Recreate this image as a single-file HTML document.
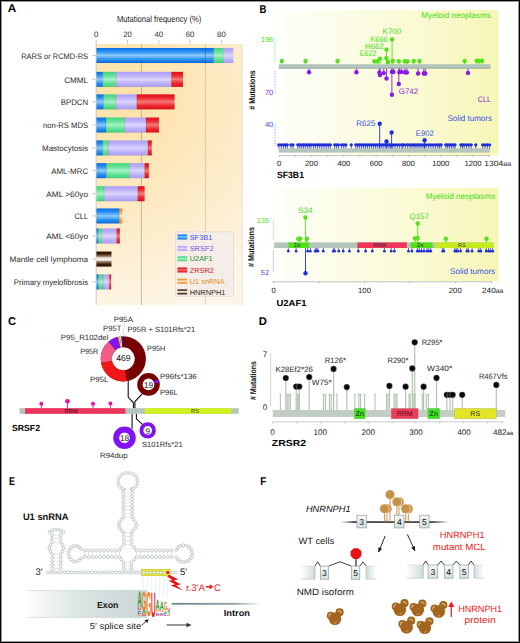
<!DOCTYPE html>
<html><head><meta charset="utf-8"><title>Figure</title><style>html,body{margin:0;padding:0;background:#fff;width:520px;height:643px;overflow:hidden}svg{display:block;font-family:"Liberation Sans",sans-serif}</style></head><body>
<svg width="520" height="643" viewBox="0 0 520 643" font-family="Liberation Sans, sans-serif" text-rendering="geometricPrecision"><defs><linearGradient id="gB" x1="0" y1="0" x2="0" y2="1"><stop offset="0" stop-color="#0a6be6"/><stop offset="0.25" stop-color="#2c92f2"/><stop offset="0.5" stop-color="#8ccaf9"/><stop offset="0.75" stop-color="#2c92f2"/><stop offset="1" stop-color="#0a6be6"/></linearGradient><linearGradient id="gG" x1="0" y1="0" x2="0" y2="1"><stop offset="0" stop-color="#3fd47f"/><stop offset="0.25" stop-color="#63e297"/><stop offset="0.5" stop-color="#a6f2c4"/><stop offset="0.75" stop-color="#63e297"/><stop offset="1" stop-color="#3fd47f"/></linearGradient><linearGradient id="gP" x1="0" y1="0" x2="0" y2="1"><stop offset="0" stop-color="#ad9ff6"/><stop offset="0.25" stop-color="#bdb2f9"/><stop offset="0.5" stop-color="#dcd6fd"/><stop offset="0.75" stop-color="#bdb2f9"/><stop offset="1" stop-color="#ad9ff6"/></linearGradient><linearGradient id="gR" x1="0" y1="0" x2="0" y2="1"><stop offset="0" stop-color="#e20d16"/><stop offset="0.25" stop-color="#ec2a30"/><stop offset="0.5" stop-color="#f57a7a"/><stop offset="0.75" stop-color="#ec2a30"/><stop offset="1" stop-color="#e20d16"/></linearGradient><linearGradient id="gO" x1="0" y1="0" x2="0" y2="1"><stop offset="0" stop-color="#f08a1c"/><stop offset="0.25" stop-color="#f5a850"/><stop offset="0.5" stop-color="#fde8cc"/><stop offset="0.75" stop-color="#f5a850"/><stop offset="1" stop-color="#f08a1c"/></linearGradient><linearGradient id="gH" x1="0" y1="0" x2="0" y2="1"><stop offset="0" stop-color="#2a1000"/><stop offset="0.13" stop-color="#3a1c08"/><stop offset="0.3" stop-color="#8a6a50"/><stop offset="0.42" stop-color="#ebe6e0"/><stop offset="0.5" stop-color="#f6f4f2"/><stop offset="0.58" stop-color="#ebe6e0"/><stop offset="0.7" stop-color="#8a6a50"/><stop offset="0.87" stop-color="#3a1c08"/><stop offset="1" stop-color="#2a1000"/></linearGradient><radialGradient id="bgA" cx="120" cy="100" r="220" gradientUnits="userSpaceOnUse"><stop offset="0" stop-color="#fde2a4"/><stop offset="0.5" stop-color="#fdeac4"/><stop offset="1" stop-color="#fdf6e8"/></radialGradient><linearGradient id="bgB" x1="0" y1="0" x2="1" y2="0"><stop offset="0" stop-color="#fefefb"/><stop offset="0.3" stop-color="#fcfce8"/><stop offset="0.65" stop-color="#fafad2"/><stop offset="1" stop-color="#f6f6b6"/></linearGradient><linearGradient id="exon" x1="0" y1="0" x2="1" y2="0"><stop offset="0" stop-color="#ffffff"/><stop offset="0.4" stop-color="#dee5e5"/><stop offset="0.7" stop-color="#d2dcdc"/><stop offset="1" stop-color="#ccd6d6"/></linearGradient><linearGradient id="ebox" x1="0" y1="0" x2="0" y2="1"><stop offset="0" stop-color="#f6f9f9"/><stop offset="1" stop-color="#d6e0e0"/></linearGradient><linearGradient id="fadeL" x1="0" y1="0" x2="1" y2="0"><stop offset="0" stop-color="#ffffff"/><stop offset="1" stop-color="#d0dada"/></linearGradient><linearGradient id="fadeR" x1="0" y1="0" x2="1" y2="0"><stop offset="0" stop-color="#d0dada"/><stop offset="1" stop-color="#ffffff"/></linearGradient><linearGradient id="geneL" x1="0" y1="0" x2="1" y2="0"><stop offset="0" stop-color="#000" stop-opacity="0"/><stop offset="0.12" stop-color="#000"/><stop offset="0.85" stop-color="#000"/><stop offset="1" stop-color="#000" stop-opacity="0"/></linearGradient><linearGradient id="intron" x1="0" y1="0" x2="1" y2="0"><stop offset="0" stop-color="#6f8388"/><stop offset="0.7" stop-color="#8fa0a4"/><stop offset="1" stop-color="#ffffff"/></linearGradient></defs><rect width="520" height="643" fill="#fff"/><rect x="95.80" y="44.00" width="146.40" height="261.00" fill="url(#bgA)"/>
<line x1="242.20" y1="44.00" x2="242.20" y2="305.00" stroke="#d8d4cc" stroke-width="0.6"/>
<line x1="141.40" y1="44.00" x2="141.40" y2="305.00" stroke="#8a8274" stroke-width="0.5"/>
<line x1="205.40" y1="44.00" x2="205.40" y2="305.00" stroke="#8a8478" stroke-width="0.5" stroke-dasharray="0.9 0.7"/>
<line x1="96.20" y1="44.00" x2="96.20" y2="305.00" stroke="#c4c8cc" stroke-width="0.8"/>
<line x1="96.20" y1="40.00" x2="96.20" y2="43.50" stroke="#999" stroke-width="0.6"/>
<text x="96.20" y="36.89" font-size="7.8" fill="#333" text-anchor="middle">0</text>
<line x1="127.50" y1="40.00" x2="127.50" y2="43.50" stroke="#999" stroke-width="0.6"/>
<text x="127.50" y="36.89" font-size="7.8" fill="#333" text-anchor="middle">20</text>
<line x1="158.80" y1="40.00" x2="158.80" y2="43.50" stroke="#999" stroke-width="0.6"/>
<text x="158.80" y="36.89" font-size="7.8" fill="#333" text-anchor="middle">40</text>
<line x1="190.10" y1="40.00" x2="190.10" y2="43.50" stroke="#999" stroke-width="0.6"/>
<text x="190.10" y="36.89" font-size="7.8" fill="#333" text-anchor="middle">60</text>
<line x1="221.40" y1="40.00" x2="221.40" y2="43.50" stroke="#999" stroke-width="0.6"/>
<text x="221.40" y="36.89" font-size="7.8" fill="#333" text-anchor="middle">80</text>
<text x="159.10" y="22.39" font-size="8.9" fill="#222" text-anchor="middle" textLength="84.20" lengthAdjust="spacingAndGlyphs">Mutational frequency (%)</text>
<text x="7.70" y="12.30" font-size="11.3" fill="#000" font-weight="bold" textLength="8.50" lengthAdjust="spacingAndGlyphs">A</text>
<text x="21.20" y="58.86" font-size="8" fill="#2b2b2b" textLength="66.90" lengthAdjust="spacingAndGlyphs">RARS or RCMD-RS</text>
<line x1="92.00" y1="55.50" x2="95.60" y2="55.50" stroke="#b8bcc0" stroke-width="0.8"/>
<rect x="96.40" y="48.00" width="117.40" height="15.00" fill="url(#gB)"/>
<rect x="213.80" y="48.00" width="9.60" height="15.00" fill="url(#gG)"/>
<rect x="223.40" y="48.00" width="10.00" height="15.00" fill="url(#gP)"/>
<line x1="213.80" y1="48.00" x2="213.80" y2="63.00" stroke="#000" stroke-width="0.5" stroke-opacity="0.22"/>
<line x1="223.40" y1="48.00" x2="223.40" y2="63.00" stroke="#000" stroke-width="0.5" stroke-opacity="0.22"/>
<line x1="96.40" y1="62.80" x2="233.40" y2="62.80" stroke="#000" stroke-width="0.4" stroke-opacity="0.15"/>
<text x="64.20" y="82.71" font-size="8" fill="#2b2b2b" textLength="23.90" lengthAdjust="spacingAndGlyphs">CMML</text>
<line x1="92.00" y1="79.35" x2="95.60" y2="79.35" stroke="#b8bcc0" stroke-width="0.8"/>
<rect x="96.40" y="71.85" width="6.40" height="15.00" fill="url(#gB)"/>
<rect x="102.80" y="71.85" width="13.00" height="15.00" fill="url(#gG)"/>
<rect x="115.80" y="71.85" width="55.60" height="15.00" fill="url(#gP)"/>
<rect x="171.40" y="71.85" width="11.60" height="15.00" fill="url(#gR)"/>
<line x1="102.80" y1="71.85" x2="102.80" y2="86.85" stroke="#000" stroke-width="0.5" stroke-opacity="0.22"/>
<line x1="115.80" y1="71.85" x2="115.80" y2="86.85" stroke="#000" stroke-width="0.5" stroke-opacity="0.22"/>
<line x1="171.40" y1="71.85" x2="171.40" y2="86.85" stroke="#000" stroke-width="0.5" stroke-opacity="0.22"/>
<line x1="96.40" y1="86.65" x2="183.00" y2="86.65" stroke="#000" stroke-width="0.4" stroke-opacity="0.15"/>
<text x="60.75" y="105.21" font-size="8" fill="#2b2b2b" textLength="27.35" lengthAdjust="spacingAndGlyphs">BPDCN</text>
<line x1="92.00" y1="101.85" x2="95.60" y2="101.85" stroke="#b8bcc0" stroke-width="0.8"/>
<rect x="96.40" y="94.35" width="7.30" height="15.00" fill="url(#gB)"/>
<rect x="103.70" y="94.35" width="12.10" height="15.00" fill="url(#gG)"/>
<rect x="115.80" y="94.35" width="21.00" height="15.00" fill="url(#gP)"/>
<rect x="136.80" y="94.35" width="37.80" height="15.00" fill="url(#gR)"/>
<line x1="103.70" y1="94.35" x2="103.70" y2="109.35" stroke="#000" stroke-width="0.5" stroke-opacity="0.22"/>
<line x1="115.80" y1="94.35" x2="115.80" y2="109.35" stroke="#000" stroke-width="0.5" stroke-opacity="0.22"/>
<line x1="136.80" y1="94.35" x2="136.80" y2="109.35" stroke="#000" stroke-width="0.5" stroke-opacity="0.22"/>
<line x1="96.40" y1="109.15" x2="174.60" y2="109.15" stroke="#000" stroke-width="0.4" stroke-opacity="0.15"/>
<text x="43.00" y="128.36" font-size="8" fill="#2b2b2b" textLength="45.10" lengthAdjust="spacingAndGlyphs">non-RS MDS</text>
<line x1="92.00" y1="125.00" x2="95.60" y2="125.00" stroke="#b8bcc0" stroke-width="0.8"/>
<rect x="96.40" y="117.50" width="9.60" height="15.00" fill="url(#gB)"/>
<rect x="106.00" y="117.50" width="18.70" height="15.00" fill="url(#gG)"/>
<rect x="124.70" y="117.50" width="21.30" height="15.00" fill="url(#gP)"/>
<rect x="146.00" y="117.50" width="13.00" height="15.00" fill="url(#gR)"/>
<line x1="106.00" y1="117.50" x2="106.00" y2="132.50" stroke="#000" stroke-width="0.5" stroke-opacity="0.22"/>
<line x1="124.70" y1="117.50" x2="124.70" y2="132.50" stroke="#000" stroke-width="0.5" stroke-opacity="0.22"/>
<line x1="146.00" y1="117.50" x2="146.00" y2="132.50" stroke="#000" stroke-width="0.5" stroke-opacity="0.22"/>
<line x1="96.40" y1="132.30" x2="159.00" y2="132.30" stroke="#000" stroke-width="0.4" stroke-opacity="0.15"/>
<text x="42.00" y="151.26" font-size="8" fill="#2b2b2b" textLength="46.10" lengthAdjust="spacingAndGlyphs">Mastocytosis</text>
<line x1="92.00" y1="147.90" x2="95.60" y2="147.90" stroke="#b8bcc0" stroke-width="0.8"/>
<rect x="96.40" y="140.40" width="6.40" height="15.00" fill="url(#gB)"/>
<rect x="102.80" y="140.40" width="5.20" height="15.00" fill="url(#gG)"/>
<rect x="108.00" y="140.40" width="39.80" height="15.00" fill="url(#gP)"/>
<rect x="147.80" y="140.40" width="4.00" height="15.00" fill="url(#gR)"/>
<line x1="102.80" y1="140.40" x2="102.80" y2="155.40" stroke="#000" stroke-width="0.5" stroke-opacity="0.22"/>
<line x1="108.00" y1="140.40" x2="108.00" y2="155.40" stroke="#000" stroke-width="0.5" stroke-opacity="0.22"/>
<line x1="147.80" y1="140.40" x2="147.80" y2="155.40" stroke="#000" stroke-width="0.5" stroke-opacity="0.22"/>
<line x1="96.40" y1="155.20" x2="151.80" y2="155.20" stroke="#000" stroke-width="0.4" stroke-opacity="0.15"/>
<text x="51.25" y="174.01" font-size="8" fill="#2b2b2b" textLength="36.85" lengthAdjust="spacingAndGlyphs">AML-MRC</text>
<line x1="92.00" y1="170.65" x2="95.60" y2="170.65" stroke="#b8bcc0" stroke-width="0.8"/>
<rect x="96.40" y="163.15" width="10.10" height="15.00" fill="url(#gB)"/>
<rect x="106.50" y="163.15" width="23.10" height="15.00" fill="url(#gG)"/>
<rect x="129.60" y="163.15" width="15.00" height="15.00" fill="url(#gP)"/>
<rect x="144.60" y="163.15" width="4.30" height="15.00" fill="url(#gR)"/>
<line x1="106.50" y1="163.15" x2="106.50" y2="178.15" stroke="#000" stroke-width="0.5" stroke-opacity="0.22"/>
<line x1="129.60" y1="163.15" x2="129.60" y2="178.15" stroke="#000" stroke-width="0.5" stroke-opacity="0.22"/>
<line x1="144.60" y1="163.15" x2="144.60" y2="178.15" stroke="#000" stroke-width="0.5" stroke-opacity="0.22"/>
<line x1="96.40" y1="177.95" x2="148.90" y2="177.95" stroke="#000" stroke-width="0.4" stroke-opacity="0.15"/>
<text x="46.25" y="197.06" font-size="8" fill="#2b2b2b" textLength="41.85" lengthAdjust="spacingAndGlyphs">AML &gt;60yo</text>
<line x1="92.00" y1="193.70" x2="95.60" y2="193.70" stroke="#b8bcc0" stroke-width="0.8"/>
<rect x="96.40" y="186.20" width="7.80" height="15.00" fill="url(#gG)"/>
<rect x="104.20" y="186.20" width="33.50" height="15.00" fill="url(#gP)"/>
<rect x="137.70" y="186.20" width="6.90" height="15.00" fill="url(#gR)"/>
<line x1="104.20" y1="186.20" x2="104.20" y2="201.20" stroke="#000" stroke-width="0.5" stroke-opacity="0.22"/>
<line x1="137.70" y1="186.20" x2="137.70" y2="201.20" stroke="#000" stroke-width="0.5" stroke-opacity="0.22"/>
<line x1="96.40" y1="201.00" x2="144.60" y2="201.00" stroke="#000" stroke-width="0.4" stroke-opacity="0.15"/>
<text x="74.50" y="219.31" font-size="8" fill="#2b2b2b" textLength="13.60" lengthAdjust="spacingAndGlyphs">CLL</text>
<line x1="92.00" y1="215.95" x2="95.60" y2="215.95" stroke="#b8bcc0" stroke-width="0.8"/>
<rect x="96.40" y="208.45" width="23.10" height="15.00" fill="url(#gB)"/>
<rect x="119.50" y="208.45" width="2.90" height="15.00" fill="url(#gO)"/>
<line x1="119.50" y1="208.45" x2="119.50" y2="223.45" stroke="#000" stroke-width="0.5" stroke-opacity="0.22"/>
<line x1="96.40" y1="223.25" x2="122.40" y2="223.25" stroke="#000" stroke-width="0.4" stroke-opacity="0.15"/>
<text x="46.25" y="239.31" font-size="8" fill="#2b2b2b" textLength="41.85" lengthAdjust="spacingAndGlyphs">AML &lt;60yo</text>
<line x1="92.00" y1="235.95" x2="95.60" y2="235.95" stroke="#b8bcc0" stroke-width="0.8"/>
<rect x="96.40" y="228.45" width="2.10" height="15.00" fill="url(#gB)"/>
<rect x="98.50" y="228.45" width="3.30" height="15.00" fill="url(#gG)"/>
<rect x="101.80" y="228.45" width="14.90" height="15.00" fill="url(#gP)"/>
<rect x="116.70" y="228.45" width="3.20" height="15.00" fill="url(#gR)"/>
<line x1="98.50" y1="228.45" x2="98.50" y2="243.45" stroke="#000" stroke-width="0.5" stroke-opacity="0.22"/>
<line x1="101.80" y1="228.45" x2="101.80" y2="243.45" stroke="#000" stroke-width="0.5" stroke-opacity="0.22"/>
<line x1="116.70" y1="228.45" x2="116.70" y2="243.45" stroke="#000" stroke-width="0.5" stroke-opacity="0.22"/>
<line x1="96.40" y1="243.25" x2="119.90" y2="243.25" stroke="#000" stroke-width="0.4" stroke-opacity="0.15"/>
<text x="9.50" y="262.41" font-size="8" fill="#2b2b2b" textLength="78.60" lengthAdjust="spacingAndGlyphs">Mantle cell lymphoma</text>
<line x1="92.00" y1="259.05" x2="95.60" y2="259.05" stroke="#b8bcc0" stroke-width="0.8"/>
<rect x="96.40" y="251.55" width="15.10" height="15.00" fill="url(#gH)"/>
<line x1="96.40" y1="266.35" x2="111.50" y2="266.35" stroke="#000" stroke-width="0.4" stroke-opacity="0.15"/>
<text x="13.75" y="285.26" font-size="8" fill="#2b2b2b" textLength="74.35" lengthAdjust="spacingAndGlyphs">Primary myelofibrosis</text>
<line x1="92.00" y1="281.90" x2="95.60" y2="281.90" stroke="#b8bcc0" stroke-width="0.8"/>
<rect x="96.40" y="274.40" width="2.30" height="15.00" fill="url(#gB)"/>
<rect x="98.70" y="274.40" width="4.30" height="15.00" fill="url(#gG)"/>
<rect x="103.00" y="274.40" width="6.30" height="15.00" fill="url(#gP)"/>
<rect x="109.30" y="274.40" width="1.80" height="15.00" fill="url(#gR)"/>
<line x1="98.70" y1="274.40" x2="98.70" y2="289.40" stroke="#000" stroke-width="0.5" stroke-opacity="0.22"/>
<line x1="103.00" y1="274.40" x2="103.00" y2="289.40" stroke="#000" stroke-width="0.5" stroke-opacity="0.22"/>
<line x1="109.30" y1="274.40" x2="109.30" y2="289.40" stroke="#000" stroke-width="0.5" stroke-opacity="0.22"/>
<line x1="96.40" y1="289.20" x2="111.10" y2="289.20" stroke="#000" stroke-width="0.4" stroke-opacity="0.15"/>
<line x1="205.40" y1="47.50" x2="205.40" y2="63.50" stroke="#203050" stroke-width="0.5" stroke-opacity="0.6"/>
<rect x="175.40" y="231.90" width="58.10" height="64.30" fill="#f4ece8" fill-opacity="0.88" stroke="#d8d0cc" stroke-width="0.5"/>
<rect x="177.40" y="234.50" width="9.80" height="5.00" fill="url(#gB)"/>
<text x="189.70" y="239.65" font-size="7.4" fill="#3a55e0">SF3B1</text>
<rect x="177.40" y="245.90" width="9.80" height="5.00" fill="url(#gP)"/>
<text x="189.70" y="251.05" font-size="7.4" fill="#7a55e8">SRSF2</text>
<rect x="177.40" y="256.30" width="9.80" height="5.00" fill="url(#gG)"/>
<text x="189.70" y="261.45" font-size="7.4" fill="#2a8a30">U2AF1</text>
<rect x="177.40" y="267.50" width="9.80" height="5.00" fill="url(#gR)"/>
<text x="189.70" y="272.65" font-size="7.4" fill="#c8282a">ZRSR2</text>
<rect x="177.40" y="278.70" width="9.80" height="5.00" fill="url(#gO)"/>
<text x="189.70" y="283.85" font-size="7.4" fill="#f08a24">U1 snRNA</text>
<rect x="177.40" y="289.40" width="9.80" height="5.00" fill="url(#gH)"/>
<text x="189.70" y="294.55" font-size="7.4" fill="#3a2a20">HNRNPH1</text>
<text x="259.60" y="12.50" font-size="11.3" fill="#000" font-weight="bold" textLength="6.90" lengthAdjust="spacingAndGlyphs">B</text>
<rect x="277.00" y="10.00" width="221.50" height="145.40" fill="url(#bgB)"/>
<rect x="276.00" y="187.80" width="222.50" height="93.50" fill="url(#bgB)"/>
<text transform="translate(254.61,90.00) rotate(-90)" text-anchor="middle" font-size="8.4" font-weight="bold" fill="#111" textLength="39.4" lengthAdjust="spacingAndGlyphs"># Mutations</text>
<text transform="translate(254.31,247.00) rotate(-90)" text-anchor="middle" font-size="8.4" font-weight="bold" fill="#111" textLength="40" lengthAdjust="spacingAndGlyphs"># Mutations</text>
<text x="421.20" y="18.44" font-size="8.2" fill="#3ede10" textLength="69.60" lengthAdjust="spacingAndGlyphs">Myeloid neoplasms</text>
<text x="273.20" y="42.15" font-size="7.4" fill="#3ede10" text-anchor="end">196</text>
<text x="273.20" y="95.45" font-size="7.4" fill="#9026d8" text-anchor="end">70</text>
<text x="273.20" y="127.05" font-size="7.4" fill="#3a52e6" text-anchor="end">40</text>
<line x1="275.00" y1="39.50" x2="275.00" y2="62.30" stroke="#55e01a" stroke-width="0.7" stroke-dasharray="0.8 0.8"/>
<line x1="275.00" y1="71.20" x2="275.00" y2="93.00" stroke="#b070f0" stroke-width="0.7" stroke-dasharray="0.8 0.8"/>
<line x1="275.00" y1="124.00" x2="275.00" y2="146.00" stroke="#6070e0" stroke-width="0.7" stroke-dasharray="0.8 0.8"/>
<rect x="278.80" y="64.20" width="211.60" height="4.30" fill="#b4c6bb"/>
<line x1="278.80" y1="68.20" x2="490.40" y2="68.20" stroke="#8a9a90" stroke-width="0.6"/>
<line x1="281.80" y1="61.00" x2="281.80" y2="64.20" stroke="#55e01a" stroke-width="0.9"/>
<line x1="305.50" y1="61.00" x2="305.50" y2="64.20" stroke="#55e01a" stroke-width="0.9"/>
<line x1="337.60" y1="61.00" x2="337.60" y2="64.20" stroke="#55e01a" stroke-width="0.9"/>
<line x1="374.40" y1="61.30" x2="374.40" y2="64.20" stroke="#55e01a" stroke-width="0.9"/>
<line x1="377.50" y1="61.30" x2="377.50" y2="64.20" stroke="#55e01a" stroke-width="0.9"/>
<line x1="380.00" y1="58.75" x2="380.00" y2="64.20" stroke="#55e01a" stroke-width="0.9"/>
<line x1="386.30" y1="58.10" x2="386.30" y2="64.20" stroke="#55e01a" stroke-width="0.9"/>
<line x1="386.50" y1="49.60" x2="386.50" y2="64.20" stroke="#55e01a" stroke-width="0.9"/>
<line x1="388.00" y1="61.90" x2="388.00" y2="64.20" stroke="#55e01a" stroke-width="0.9"/>
<line x1="392.10" y1="39.40" x2="392.10" y2="64.20" stroke="#55e01a" stroke-width="0.9"/>
<line x1="392.80" y1="61.00" x2="392.80" y2="64.20" stroke="#55e01a" stroke-width="0.9"/>
<line x1="398.80" y1="61.30" x2="398.80" y2="64.20" stroke="#55e01a" stroke-width="0.9"/>
<line x1="404.80" y1="61.30" x2="404.80" y2="64.20" stroke="#55e01a" stroke-width="0.9"/>
<line x1="407.50" y1="61.30" x2="407.50" y2="64.20" stroke="#55e01a" stroke-width="0.9"/>
<line x1="413.80" y1="61.00" x2="413.80" y2="64.20" stroke="#55e01a" stroke-width="0.9"/>
<line x1="419.40" y1="61.00" x2="419.40" y2="64.20" stroke="#55e01a" stroke-width="0.9"/>
<line x1="464.70" y1="61.00" x2="464.70" y2="64.20" stroke="#55e01a" stroke-width="0.9"/>
<line x1="476.60" y1="60.80" x2="476.60" y2="64.20" stroke="#55e01a" stroke-width="0.9"/>
<line x1="479.20" y1="60.80" x2="479.20" y2="64.20" stroke="#55e01a" stroke-width="0.9"/>
<line x1="482.00" y1="60.80" x2="482.00" y2="64.20" stroke="#55e01a" stroke-width="0.9"/>
<circle cx="281.80" cy="61.00" r="2.20" fill="#55e01a"/>
<circle cx="305.50" cy="61.00" r="2.20" fill="#55e01a"/>
<circle cx="337.60" cy="61.00" r="2.20" fill="#55e01a"/>
<circle cx="374.40" cy="61.30" r="2.20" fill="#55e01a"/>
<circle cx="377.50" cy="61.30" r="2.20" fill="#55e01a"/>
<circle cx="380.00" cy="58.75" r="2.20" fill="#55e01a"/>
<circle cx="386.30" cy="58.10" r="2.20" fill="#55e01a"/>
<circle cx="386.50" cy="49.60" r="2.20" fill="#55e01a"/>
<circle cx="388.00" cy="61.90" r="2.20" fill="#55e01a"/>
<circle cx="392.10" cy="39.40" r="2.20" fill="#55e01a"/>
<circle cx="392.80" cy="61.00" r="2.20" fill="#55e01a"/>
<circle cx="398.80" cy="61.30" r="2.20" fill="#55e01a"/>
<circle cx="404.80" cy="61.30" r="2.20" fill="#55e01a"/>
<circle cx="407.50" cy="61.30" r="2.20" fill="#55e01a"/>
<circle cx="413.80" cy="61.00" r="2.20" fill="#55e01a"/>
<circle cx="419.40" cy="61.00" r="2.20" fill="#55e01a"/>
<circle cx="464.70" cy="61.00" r="2.20" fill="#55e01a"/>
<circle cx="476.60" cy="60.80" r="2.20" fill="#55e01a"/>
<circle cx="479.20" cy="60.80" r="2.20" fill="#55e01a"/>
<circle cx="482.00" cy="60.80" r="2.20" fill="#55e01a"/>
<line x1="309.00" y1="68.50" x2="309.00" y2="72.30" stroke="#8a18e6" stroke-width="0.9"/>
<line x1="356.40" y1="68.50" x2="356.40" y2="72.30" stroke="#8a18e6" stroke-width="0.9"/>
<line x1="379.40" y1="68.50" x2="379.40" y2="72.50" stroke="#8a18e6" stroke-width="0.9"/>
<line x1="380.00" y1="68.50" x2="380.00" y2="75.00" stroke="#8a18e6" stroke-width="0.9"/>
<line x1="383.80" y1="68.50" x2="383.80" y2="73.10" stroke="#8a18e6" stroke-width="0.9"/>
<line x1="386.50" y1="68.50" x2="386.50" y2="78.50" stroke="#8a18e6" stroke-width="0.9"/>
<line x1="391.90" y1="68.50" x2="391.90" y2="71.90" stroke="#8a18e6" stroke-width="0.9"/>
<line x1="393.50" y1="68.50" x2="393.50" y2="71.90" stroke="#8a18e6" stroke-width="0.9"/>
<line x1="391.90" y1="68.50" x2="391.90" y2="94.75" stroke="#8a18e6" stroke-width="0.9"/>
<line x1="398.80" y1="68.50" x2="398.80" y2="84.00" stroke="#8a18e6" stroke-width="0.9"/>
<line x1="399.40" y1="68.50" x2="399.40" y2="72.30" stroke="#8a18e6" stroke-width="0.9"/>
<line x1="401.30" y1="68.50" x2="401.30" y2="71.90" stroke="#8a18e6" stroke-width="0.9"/>
<line x1="405.00" y1="68.50" x2="405.00" y2="72.30" stroke="#8a18e6" stroke-width="0.9"/>
<line x1="406.90" y1="68.50" x2="406.90" y2="72.50" stroke="#8a18e6" stroke-width="0.9"/>
<line x1="418.10" y1="68.50" x2="418.10" y2="73.50" stroke="#8a18e6" stroke-width="0.9"/>
<line x1="423.80" y1="68.50" x2="423.80" y2="73.50" stroke="#8a18e6" stroke-width="0.9"/>
<line x1="425.30" y1="68.50" x2="425.30" y2="73.50" stroke="#8a18e6" stroke-width="0.9"/>
<line x1="468.00" y1="68.50" x2="468.00" y2="72.90" stroke="#8a18e6" stroke-width="0.9"/>
<circle cx="309.00" cy="72.30" r="2.20" fill="#8a18e6"/>
<circle cx="356.40" cy="72.30" r="2.20" fill="#8a18e6"/>
<circle cx="379.40" cy="72.50" r="2.20" fill="#8a18e6"/>
<circle cx="380.00" cy="75.00" r="2.20" fill="#8a18e6"/>
<circle cx="383.80" cy="73.10" r="2.20" fill="#8a18e6"/>
<circle cx="386.50" cy="78.50" r="2.20" fill="#8a18e6"/>
<circle cx="391.90" cy="71.90" r="2.20" fill="#8a18e6"/>
<circle cx="393.50" cy="71.90" r="2.20" fill="#8a18e6"/>
<circle cx="391.90" cy="94.75" r="2.20" fill="#8a18e6"/>
<circle cx="398.80" cy="84.00" r="2.20" fill="#8a18e6"/>
<circle cx="399.40" cy="72.30" r="2.20" fill="#8a18e6"/>
<circle cx="401.30" cy="71.90" r="2.20" fill="#8a18e6"/>
<circle cx="405.00" cy="72.30" r="2.20" fill="#8a18e6"/>
<circle cx="406.90" cy="72.50" r="2.20" fill="#8a18e6"/>
<circle cx="418.10" cy="73.50" r="2.20" fill="#8a18e6"/>
<circle cx="423.80" cy="73.50" r="2.20" fill="#8a18e6"/>
<circle cx="425.30" cy="73.50" r="2.20" fill="#8a18e6"/>
<circle cx="468.00" cy="72.90" r="2.20" fill="#8a18e6"/>
<text x="391.90" y="34.41" font-size="8.0" fill="#3ede10" text-anchor="middle">K700</text>
<text x="370.40" y="42.01" font-size="8.0" fill="#3ede10" textLength="17.30" lengthAdjust="spacingAndGlyphs">K666</text>
<text x="365.10" y="49.16" font-size="8.0" fill="#3ede10" textLength="18.70" lengthAdjust="spacingAndGlyphs">H662</text>
<text x="359.80" y="55.76" font-size="8.0" fill="#3ede10" textLength="16.80" lengthAdjust="spacingAndGlyphs">E622</text>
<text x="398.80" y="94.06" font-size="8.0" fill="#9026d8" textLength="19.20" lengthAdjust="spacingAndGlyphs">G742</text>
<text x="477.80" y="102.46" font-size="8" fill="#9026d8" textLength="13.10" lengthAdjust="spacingAndGlyphs">CLL</text>
<text x="447.50" y="121.34" font-size="8.2" fill="#3a52e6" textLength="44.40" lengthAdjust="spacingAndGlyphs">Solid tumors</text>
<rect x="278.80" y="148.40" width="211.20" height="4.20" fill="#b4c6bb"/>
<line x1="278.80" y1="144.80" x2="278.80" y2="148.40" stroke="#1f2fd8" stroke-width="0.8"/>
<circle cx="278.80" cy="144.80" r="1.65" fill="#1f2fd8"/>
<line x1="281.30" y1="144.80" x2="281.30" y2="148.40" stroke="#1f2fd8" stroke-width="0.8"/>
<circle cx="281.30" cy="144.80" r="1.65" fill="#1f2fd8"/>
<line x1="283.50" y1="144.80" x2="283.50" y2="148.40" stroke="#1f2fd8" stroke-width="0.8"/>
<circle cx="283.50" cy="144.80" r="1.65" fill="#1f2fd8"/>
<line x1="285.40" y1="144.80" x2="285.40" y2="148.40" stroke="#1f2fd8" stroke-width="0.8"/>
<circle cx="285.40" cy="144.80" r="1.65" fill="#1f2fd8"/>
<line x1="287.30" y1="144.80" x2="287.30" y2="148.40" stroke="#1f2fd8" stroke-width="0.8"/>
<circle cx="287.30" cy="144.80" r="1.65" fill="#1f2fd8"/>
<line x1="290.90" y1="144.80" x2="290.90" y2="148.40" stroke="#1f2fd8" stroke-width="0.8"/>
<circle cx="290.90" cy="144.80" r="1.65" fill="#1f2fd8"/>
<line x1="293.00" y1="144.80" x2="293.00" y2="148.40" stroke="#1f2fd8" stroke-width="0.8"/>
<circle cx="293.00" cy="144.80" r="1.65" fill="#1f2fd8"/>
<line x1="297.80" y1="144.80" x2="297.80" y2="148.40" stroke="#1f2fd8" stroke-width="0.8"/>
<circle cx="297.80" cy="144.80" r="1.65" fill="#1f2fd8"/>
<line x1="299.69" y1="144.80" x2="299.69" y2="148.40" stroke="#1f2fd8" stroke-width="0.8"/>
<circle cx="299.69" cy="144.80" r="1.65" fill="#1f2fd8"/>
<line x1="301.57" y1="144.80" x2="301.57" y2="148.40" stroke="#1f2fd8" stroke-width="0.8"/>
<circle cx="301.57" cy="144.80" r="1.65" fill="#1f2fd8"/>
<line x1="303.46" y1="144.80" x2="303.46" y2="148.40" stroke="#1f2fd8" stroke-width="0.8"/>
<circle cx="303.46" cy="144.80" r="1.65" fill="#1f2fd8"/>
<line x1="305.34" y1="144.80" x2="305.34" y2="148.40" stroke="#1f2fd8" stroke-width="0.8"/>
<circle cx="305.34" cy="144.80" r="1.65" fill="#1f2fd8"/>
<line x1="307.23" y1="144.80" x2="307.23" y2="148.40" stroke="#1f2fd8" stroke-width="0.8"/>
<circle cx="307.23" cy="144.80" r="1.65" fill="#1f2fd8"/>
<line x1="309.11" y1="144.80" x2="309.11" y2="148.40" stroke="#1f2fd8" stroke-width="0.8"/>
<circle cx="309.11" cy="144.80" r="1.65" fill="#1f2fd8"/>
<line x1="311.00" y1="144.80" x2="311.00" y2="148.40" stroke="#1f2fd8" stroke-width="0.8"/>
<circle cx="311.00" cy="144.80" r="1.65" fill="#1f2fd8"/>
<line x1="313.50" y1="144.80" x2="313.50" y2="148.40" stroke="#1f2fd8" stroke-width="0.8"/>
<circle cx="313.50" cy="144.80" r="1.65" fill="#1f2fd8"/>
<line x1="315.61" y1="144.80" x2="315.61" y2="148.40" stroke="#1f2fd8" stroke-width="0.8"/>
<circle cx="315.61" cy="144.80" r="1.65" fill="#1f2fd8"/>
<line x1="317.73" y1="144.80" x2="317.73" y2="148.40" stroke="#1f2fd8" stroke-width="0.8"/>
<circle cx="317.73" cy="144.80" r="1.65" fill="#1f2fd8"/>
<line x1="319.84" y1="144.80" x2="319.84" y2="148.40" stroke="#1f2fd8" stroke-width="0.8"/>
<circle cx="319.84" cy="144.80" r="1.65" fill="#1f2fd8"/>
<line x1="321.95" y1="144.80" x2="321.95" y2="148.40" stroke="#1f2fd8" stroke-width="0.8"/>
<circle cx="321.95" cy="144.80" r="1.65" fill="#1f2fd8"/>
<line x1="324.06" y1="144.80" x2="324.06" y2="148.40" stroke="#1f2fd8" stroke-width="0.8"/>
<circle cx="324.06" cy="144.80" r="1.65" fill="#1f2fd8"/>
<line x1="326.17" y1="144.80" x2="326.17" y2="148.40" stroke="#1f2fd8" stroke-width="0.8"/>
<circle cx="326.17" cy="144.80" r="1.65" fill="#1f2fd8"/>
<line x1="328.29" y1="144.80" x2="328.29" y2="148.40" stroke="#1f2fd8" stroke-width="0.8"/>
<circle cx="328.29" cy="144.80" r="1.65" fill="#1f2fd8"/>
<line x1="330.40" y1="144.80" x2="330.40" y2="148.40" stroke="#1f2fd8" stroke-width="0.8"/>
<circle cx="330.40" cy="144.80" r="1.65" fill="#1f2fd8"/>
<line x1="334.70" y1="144.80" x2="334.70" y2="148.40" stroke="#1f2fd8" stroke-width="0.8"/>
<circle cx="334.70" cy="144.80" r="1.65" fill="#1f2fd8"/>
<line x1="336.60" y1="144.80" x2="336.60" y2="148.40" stroke="#1f2fd8" stroke-width="0.8"/>
<circle cx="336.60" cy="144.80" r="1.65" fill="#1f2fd8"/>
<line x1="338.50" y1="144.80" x2="338.50" y2="148.40" stroke="#1f2fd8" stroke-width="0.8"/>
<circle cx="338.50" cy="144.80" r="1.65" fill="#1f2fd8"/>
<line x1="341.60" y1="144.80" x2="341.60" y2="148.40" stroke="#1f2fd8" stroke-width="0.8"/>
<circle cx="341.60" cy="144.80" r="1.65" fill="#1f2fd8"/>
<line x1="343.75" y1="144.80" x2="343.75" y2="148.40" stroke="#1f2fd8" stroke-width="0.8"/>
<circle cx="343.75" cy="144.80" r="1.65" fill="#1f2fd8"/>
<line x1="345.90" y1="144.80" x2="345.90" y2="148.40" stroke="#1f2fd8" stroke-width="0.8"/>
<circle cx="345.90" cy="144.80" r="1.65" fill="#1f2fd8"/>
<line x1="351.20" y1="144.80" x2="351.20" y2="148.40" stroke="#1f2fd8" stroke-width="0.8"/>
<circle cx="351.20" cy="144.80" r="1.65" fill="#1f2fd8"/>
<line x1="355.80" y1="144.80" x2="355.80" y2="148.40" stroke="#1f2fd8" stroke-width="0.8"/>
<circle cx="355.80" cy="144.80" r="1.65" fill="#1f2fd8"/>
<line x1="357.75" y1="144.80" x2="357.75" y2="148.40" stroke="#1f2fd8" stroke-width="0.8"/>
<circle cx="357.75" cy="144.80" r="1.65" fill="#1f2fd8"/>
<line x1="359.71" y1="144.80" x2="359.71" y2="148.40" stroke="#1f2fd8" stroke-width="0.8"/>
<circle cx="359.71" cy="144.80" r="1.65" fill="#1f2fd8"/>
<line x1="361.66" y1="144.80" x2="361.66" y2="148.40" stroke="#1f2fd8" stroke-width="0.8"/>
<circle cx="361.66" cy="144.80" r="1.65" fill="#1f2fd8"/>
<line x1="363.61" y1="144.80" x2="363.61" y2="148.40" stroke="#1f2fd8" stroke-width="0.8"/>
<circle cx="363.61" cy="144.80" r="1.65" fill="#1f2fd8"/>
<line x1="365.56" y1="144.80" x2="365.56" y2="148.40" stroke="#1f2fd8" stroke-width="0.8"/>
<circle cx="365.56" cy="144.80" r="1.65" fill="#1f2fd8"/>
<line x1="367.52" y1="144.80" x2="367.52" y2="148.40" stroke="#1f2fd8" stroke-width="0.8"/>
<circle cx="367.52" cy="144.80" r="1.65" fill="#1f2fd8"/>
<line x1="369.47" y1="144.80" x2="369.47" y2="148.40" stroke="#1f2fd8" stroke-width="0.8"/>
<circle cx="369.47" cy="144.80" r="1.65" fill="#1f2fd8"/>
<line x1="371.42" y1="144.80" x2="371.42" y2="148.40" stroke="#1f2fd8" stroke-width="0.8"/>
<circle cx="371.42" cy="144.80" r="1.65" fill="#1f2fd8"/>
<line x1="373.38" y1="144.80" x2="373.38" y2="148.40" stroke="#1f2fd8" stroke-width="0.8"/>
<circle cx="373.38" cy="144.80" r="1.65" fill="#1f2fd8"/>
<line x1="375.33" y1="144.80" x2="375.33" y2="148.40" stroke="#1f2fd8" stroke-width="0.8"/>
<circle cx="375.33" cy="144.80" r="1.65" fill="#1f2fd8"/>
<line x1="377.28" y1="144.80" x2="377.28" y2="148.40" stroke="#1f2fd8" stroke-width="0.8"/>
<circle cx="377.28" cy="144.80" r="1.65" fill="#1f2fd8"/>
<line x1="379.24" y1="144.80" x2="379.24" y2="148.40" stroke="#1f2fd8" stroke-width="0.8"/>
<circle cx="379.24" cy="144.80" r="1.65" fill="#1f2fd8"/>
<line x1="381.19" y1="144.80" x2="381.19" y2="148.40" stroke="#1f2fd8" stroke-width="0.8"/>
<circle cx="381.19" cy="144.80" r="1.65" fill="#1f2fd8"/>
<line x1="383.14" y1="144.80" x2="383.14" y2="148.40" stroke="#1f2fd8" stroke-width="0.8"/>
<circle cx="383.14" cy="144.80" r="1.65" fill="#1f2fd8"/>
<line x1="385.09" y1="144.80" x2="385.09" y2="148.40" stroke="#1f2fd8" stroke-width="0.8"/>
<circle cx="385.09" cy="144.80" r="1.65" fill="#1f2fd8"/>
<line x1="387.05" y1="144.80" x2="387.05" y2="148.40" stroke="#1f2fd8" stroke-width="0.8"/>
<circle cx="387.05" cy="144.80" r="1.65" fill="#1f2fd8"/>
<line x1="389.00" y1="144.80" x2="389.00" y2="148.40" stroke="#1f2fd8" stroke-width="0.8"/>
<circle cx="389.00" cy="144.80" r="1.65" fill="#1f2fd8"/>
<line x1="390.40" y1="144.80" x2="390.40" y2="148.40" stroke="#1f2fd8" stroke-width="0.8"/>
<circle cx="390.40" cy="144.80" r="1.65" fill="#1f2fd8"/>
<line x1="392.70" y1="144.80" x2="392.70" y2="148.40" stroke="#1f2fd8" stroke-width="0.8"/>
<circle cx="392.70" cy="144.80" r="1.65" fill="#1f2fd8"/>
<line x1="395.00" y1="144.80" x2="395.00" y2="148.40" stroke="#1f2fd8" stroke-width="0.8"/>
<circle cx="395.00" cy="144.80" r="1.65" fill="#1f2fd8"/>
<line x1="397.30" y1="144.80" x2="397.30" y2="148.40" stroke="#1f2fd8" stroke-width="0.8"/>
<circle cx="397.30" cy="144.80" r="1.65" fill="#1f2fd8"/>
<line x1="399.65" y1="144.80" x2="399.65" y2="148.40" stroke="#1f2fd8" stroke-width="0.8"/>
<circle cx="399.65" cy="144.80" r="1.65" fill="#1f2fd8"/>
<line x1="402.00" y1="144.80" x2="402.00" y2="148.40" stroke="#1f2fd8" stroke-width="0.8"/>
<circle cx="402.00" cy="144.80" r="1.65" fill="#1f2fd8"/>
<line x1="403.00" y1="144.80" x2="403.00" y2="148.40" stroke="#1f2fd8" stroke-width="0.8"/>
<circle cx="403.00" cy="144.80" r="1.65" fill="#1f2fd8"/>
<line x1="405.35" y1="144.80" x2="405.35" y2="148.40" stroke="#1f2fd8" stroke-width="0.8"/>
<circle cx="405.35" cy="144.80" r="1.65" fill="#1f2fd8"/>
<line x1="407.70" y1="144.80" x2="407.70" y2="148.40" stroke="#1f2fd8" stroke-width="0.8"/>
<circle cx="407.70" cy="144.80" r="1.65" fill="#1f2fd8"/>
<line x1="410.00" y1="144.80" x2="410.00" y2="148.40" stroke="#1f2fd8" stroke-width="0.8"/>
<circle cx="410.00" cy="144.80" r="1.65" fill="#1f2fd8"/>
<line x1="412.00" y1="144.80" x2="412.00" y2="148.40" stroke="#1f2fd8" stroke-width="0.8"/>
<circle cx="412.00" cy="144.80" r="1.65" fill="#1f2fd8"/>
<line x1="414.00" y1="144.80" x2="414.00" y2="148.40" stroke="#1f2fd8" stroke-width="0.8"/>
<circle cx="414.00" cy="144.80" r="1.65" fill="#1f2fd8"/>
<line x1="416.00" y1="144.80" x2="416.00" y2="148.40" stroke="#1f2fd8" stroke-width="0.8"/>
<circle cx="416.00" cy="144.80" r="1.65" fill="#1f2fd8"/>
<line x1="418.00" y1="144.80" x2="418.00" y2="148.40" stroke="#1f2fd8" stroke-width="0.8"/>
<circle cx="418.00" cy="144.80" r="1.65" fill="#1f2fd8"/>
<line x1="420.00" y1="144.80" x2="420.00" y2="148.40" stroke="#1f2fd8" stroke-width="0.8"/>
<circle cx="420.00" cy="144.80" r="1.65" fill="#1f2fd8"/>
<line x1="422.00" y1="144.80" x2="422.00" y2="148.40" stroke="#1f2fd8" stroke-width="0.8"/>
<circle cx="422.00" cy="144.80" r="1.65" fill="#1f2fd8"/>
<line x1="424.00" y1="144.80" x2="424.00" y2="148.40" stroke="#1f2fd8" stroke-width="0.8"/>
<circle cx="424.00" cy="144.80" r="1.65" fill="#1f2fd8"/>
<line x1="426.00" y1="144.80" x2="426.00" y2="148.40" stroke="#1f2fd8" stroke-width="0.8"/>
<circle cx="426.00" cy="144.80" r="1.65" fill="#1f2fd8"/>
<line x1="428.50" y1="144.80" x2="428.50" y2="148.40" stroke="#1f2fd8" stroke-width="0.8"/>
<circle cx="428.50" cy="144.80" r="1.65" fill="#1f2fd8"/>
<line x1="430.80" y1="144.80" x2="430.80" y2="148.40" stroke="#1f2fd8" stroke-width="0.8"/>
<circle cx="430.80" cy="144.80" r="1.65" fill="#1f2fd8"/>
<line x1="433.10" y1="144.80" x2="433.10" y2="148.40" stroke="#1f2fd8" stroke-width="0.8"/>
<circle cx="433.10" cy="144.80" r="1.65" fill="#1f2fd8"/>
<line x1="435.40" y1="144.80" x2="435.40" y2="148.40" stroke="#1f2fd8" stroke-width="0.8"/>
<circle cx="435.40" cy="144.80" r="1.65" fill="#1f2fd8"/>
<line x1="437.70" y1="144.80" x2="437.70" y2="148.40" stroke="#1f2fd8" stroke-width="0.8"/>
<circle cx="437.70" cy="144.80" r="1.65" fill="#1f2fd8"/>
<line x1="439.45" y1="144.80" x2="439.45" y2="148.40" stroke="#1f2fd8" stroke-width="0.8"/>
<circle cx="439.45" cy="144.80" r="1.65" fill="#1f2fd8"/>
<line x1="441.20" y1="144.80" x2="441.20" y2="148.40" stroke="#1f2fd8" stroke-width="0.8"/>
<circle cx="441.20" cy="144.80" r="1.65" fill="#1f2fd8"/>
<line x1="445.80" y1="144.80" x2="445.80" y2="148.40" stroke="#1f2fd8" stroke-width="0.8"/>
<circle cx="445.80" cy="144.80" r="1.65" fill="#1f2fd8"/>
<line x1="447.64" y1="144.80" x2="447.64" y2="148.40" stroke="#1f2fd8" stroke-width="0.8"/>
<circle cx="447.64" cy="144.80" r="1.65" fill="#1f2fd8"/>
<line x1="449.48" y1="144.80" x2="449.48" y2="148.40" stroke="#1f2fd8" stroke-width="0.8"/>
<circle cx="449.48" cy="144.80" r="1.65" fill="#1f2fd8"/>
<line x1="451.32" y1="144.80" x2="451.32" y2="148.40" stroke="#1f2fd8" stroke-width="0.8"/>
<circle cx="451.32" cy="144.80" r="1.65" fill="#1f2fd8"/>
<line x1="453.16" y1="144.80" x2="453.16" y2="148.40" stroke="#1f2fd8" stroke-width="0.8"/>
<circle cx="453.16" cy="144.80" r="1.65" fill="#1f2fd8"/>
<line x1="455.00" y1="144.80" x2="455.00" y2="148.40" stroke="#1f2fd8" stroke-width="0.8"/>
<circle cx="455.00" cy="144.80" r="1.65" fill="#1f2fd8"/>
<line x1="460.80" y1="144.80" x2="460.80" y2="148.40" stroke="#1f2fd8" stroke-width="0.8"/>
<circle cx="460.80" cy="144.80" r="1.65" fill="#1f2fd8"/>
<line x1="462.50" y1="144.80" x2="462.50" y2="148.40" stroke="#1f2fd8" stroke-width="0.8"/>
<circle cx="462.50" cy="144.80" r="1.65" fill="#1f2fd8"/>
<line x1="464.20" y1="144.80" x2="464.20" y2="148.40" stroke="#1f2fd8" stroke-width="0.8"/>
<circle cx="464.20" cy="144.80" r="1.65" fill="#1f2fd8"/>
<line x1="466.50" y1="144.80" x2="466.50" y2="148.40" stroke="#1f2fd8" stroke-width="0.8"/>
<circle cx="466.50" cy="144.80" r="1.65" fill="#1f2fd8"/>
<line x1="468.85" y1="144.80" x2="468.85" y2="148.40" stroke="#1f2fd8" stroke-width="0.8"/>
<circle cx="468.85" cy="144.80" r="1.65" fill="#1f2fd8"/>
<line x1="471.20" y1="144.80" x2="471.20" y2="148.40" stroke="#1f2fd8" stroke-width="0.8"/>
<circle cx="471.20" cy="144.80" r="1.65" fill="#1f2fd8"/>
<line x1="475.80" y1="144.80" x2="475.80" y2="148.40" stroke="#1f2fd8" stroke-width="0.8"/>
<circle cx="475.80" cy="144.80" r="1.65" fill="#1f2fd8"/>
<line x1="482.70" y1="144.80" x2="482.70" y2="148.40" stroke="#1f2fd8" stroke-width="0.8"/>
<circle cx="482.70" cy="144.80" r="1.65" fill="#1f2fd8"/>
<line x1="485.00" y1="144.80" x2="485.00" y2="148.40" stroke="#1f2fd8" stroke-width="0.8"/>
<circle cx="485.00" cy="144.80" r="1.65" fill="#1f2fd8"/>
<line x1="487.30" y1="144.80" x2="487.30" y2="148.40" stroke="#1f2fd8" stroke-width="0.8"/>
<circle cx="487.30" cy="144.80" r="1.65" fill="#1f2fd8"/>
<line x1="489.60" y1="144.80" x2="489.60" y2="148.40" stroke="#1f2fd8" stroke-width="0.8"/>
<circle cx="489.60" cy="144.80" r="1.65" fill="#1f2fd8"/>
<line x1="379.70" y1="123.70" x2="379.70" y2="148.40" stroke="#1f2fd8" stroke-width="0.9"/>
<circle cx="379.70" cy="123.70" r="2.20" fill="#1f2fd8"/>
<line x1="391.60" y1="132.50" x2="391.60" y2="148.40" stroke="#1f2fd8" stroke-width="0.9"/>
<circle cx="391.60" cy="132.50" r="2.20" fill="#1f2fd8"/>
<line x1="424.60" y1="140.20" x2="424.60" y2="148.40" stroke="#1f2fd8" stroke-width="0.9"/>
<circle cx="424.60" cy="140.20" r="2.20" fill="#1f2fd8"/>
<line x1="386.50" y1="141.50" x2="386.50" y2="148.40" stroke="#1f2fd8" stroke-width="0.9"/>
<circle cx="386.50" cy="141.50" r="2.20" fill="#1f2fd8"/>
<text x="375.40" y="125.76" font-size="8.0" fill="#3a52e6" text-anchor="end">R625</text>
<text x="415.80" y="136.46" font-size="8.0" fill="#3a52e6" textLength="18.00" lengthAdjust="spacingAndGlyphs">E902</text>
<line x1="279.20" y1="155.60" x2="490.00" y2="155.60" stroke="#888" stroke-width="0.5"/>
<line x1="279.20" y1="155.60" x2="279.20" y2="157.20" stroke="#888" stroke-width="0.5"/>
<line x1="295.35" y1="155.60" x2="295.35" y2="157.20" stroke="#888" stroke-width="0.5"/>
<line x1="311.50" y1="155.60" x2="311.50" y2="157.20" stroke="#888" stroke-width="0.5"/>
<line x1="327.65" y1="155.60" x2="327.65" y2="157.20" stroke="#888" stroke-width="0.5"/>
<line x1="343.80" y1="155.60" x2="343.80" y2="157.20" stroke="#888" stroke-width="0.5"/>
<line x1="359.95" y1="155.60" x2="359.95" y2="157.20" stroke="#888" stroke-width="0.5"/>
<line x1="376.10" y1="155.60" x2="376.10" y2="157.20" stroke="#888" stroke-width="0.5"/>
<line x1="392.25" y1="155.60" x2="392.25" y2="157.20" stroke="#888" stroke-width="0.5"/>
<line x1="408.40" y1="155.60" x2="408.40" y2="157.20" stroke="#888" stroke-width="0.5"/>
<line x1="424.55" y1="155.60" x2="424.55" y2="157.20" stroke="#888" stroke-width="0.5"/>
<line x1="440.70" y1="155.60" x2="440.70" y2="157.20" stroke="#888" stroke-width="0.5"/>
<line x1="456.85" y1="155.60" x2="456.85" y2="157.20" stroke="#888" stroke-width="0.5"/>
<line x1="473.00" y1="155.60" x2="473.00" y2="157.20" stroke="#888" stroke-width="0.5"/>
<line x1="489.15" y1="155.60" x2="489.15" y2="157.20" stroke="#888" stroke-width="0.5"/>
<text x="279.20" y="165.96" font-size="7.7" fill="#222" text-anchor="middle">0</text>
<text x="311.50" y="165.96" font-size="7.7" fill="#222" text-anchor="middle">200</text>
<text x="343.80" y="165.96" font-size="7.7" fill="#222" text-anchor="middle">400</text>
<text x="376.10" y="165.96" font-size="7.7" fill="#222" text-anchor="middle">600</text>
<text x="408.40" y="165.96" font-size="7.7" fill="#222" text-anchor="middle">800</text>
<text x="440.70" y="165.96" font-size="7.7" fill="#222" text-anchor="middle">1000</text>
<text x="473.00" y="165.96" font-size="7.7" fill="#222" text-anchor="middle">1200</text>
<text x="484.3" y="165.96" font-size="7.7" fill="#222" textLength="26.8" lengthAdjust="spacingAndGlyphs">1304<tspan font-size="6.4">aa</tspan></text>
<text x="276.90" y="177.71" font-size="9.1" fill="#000" font-weight="bold" textLength="27.10" lengthAdjust="spacingAndGlyphs">SF3B1</text>
<text x="425.80" y="199.24" font-size="8.2" fill="#3ede10" textLength="69.40" lengthAdjust="spacingAndGlyphs">Myeloid neoplasms</text>
<text x="450.00" y="273.54" font-size="8.2" fill="#3a52e6" textLength="45.20" lengthAdjust="spacingAndGlyphs">Solid tumors</text>
<text x="269.00" y="222.65" font-size="7.4" fill="#3ede10" text-anchor="end">135</text>
<text x="269.00" y="275.35" font-size="7.4" fill="#3a52e6" text-anchor="end">52</text>
<line x1="273.40" y1="220.00" x2="273.40" y2="240.80" stroke="#55e01a" stroke-width="0.7" stroke-dasharray="0.8 0.8"/>
<line x1="273.40" y1="251.00" x2="273.40" y2="272.00" stroke="#6070e0" stroke-width="0.7" stroke-dasharray="0.8 0.8"/>
<rect x="274.10" y="242.40" width="219.70" height="5.60" fill="#b4c6bb"/>
<rect x="288.40" y="242.40" width="20.70" height="5.60" fill="#52e01c"/>
<rect x="357.40" y="242.40" width="49.40" height="5.60" fill="#f0345a"/>
<rect x="410.80" y="242.40" width="21.80" height="5.60" fill="#52e01c"/>
<rect x="435.20" y="242.40" width="58.60" height="5.60" fill="#c6ea22"/>
<text x="297.00" y="247.27" font-size="5.5" fill="#2a2a2a" text-anchor="middle">Zn</text>
<text x="379.60" y="247.27" font-size="5.5" fill="#2a2a2a" text-anchor="middle">RRM</text>
<text x="420.20" y="247.27" font-size="5.5" fill="#2a2a2a" text-anchor="middle">Zn</text>
<text x="461.90" y="247.27" font-size="5.5" fill="#2a2a2a" text-anchor="middle">RS</text>
<line x1="288.30" y1="248.00" x2="288.30" y2="251.20" stroke="#1f2fd8" stroke-width="0.7"/>
<circle cx="288.30" cy="251.20" r="1.35" fill="#1f2fd8"/>
<line x1="296.10" y1="248.00" x2="296.10" y2="251.20" stroke="#1f2fd8" stroke-width="0.7"/>
<circle cx="296.10" cy="251.20" r="1.35" fill="#1f2fd8"/>
<line x1="307.70" y1="248.00" x2="307.70" y2="251.20" stroke="#1f2fd8" stroke-width="0.7"/>
<circle cx="307.70" cy="251.20" r="1.35" fill="#1f2fd8"/>
<line x1="310.40" y1="248.00" x2="310.40" y2="251.20" stroke="#1f2fd8" stroke-width="0.7"/>
<circle cx="310.40" cy="251.20" r="1.35" fill="#1f2fd8"/>
<line x1="315.20" y1="248.00" x2="315.20" y2="251.20" stroke="#1f2fd8" stroke-width="0.7"/>
<circle cx="315.20" cy="251.20" r="1.35" fill="#1f2fd8"/>
<line x1="316.60" y1="248.00" x2="316.60" y2="251.20" stroke="#1f2fd8" stroke-width="0.7"/>
<circle cx="316.60" cy="251.20" r="1.35" fill="#1f2fd8"/>
<line x1="317.90" y1="248.00" x2="317.90" y2="251.20" stroke="#1f2fd8" stroke-width="0.7"/>
<circle cx="317.90" cy="251.20" r="1.35" fill="#1f2fd8"/>
<line x1="323.30" y1="248.00" x2="323.30" y2="251.20" stroke="#1f2fd8" stroke-width="0.7"/>
<circle cx="323.30" cy="251.20" r="1.35" fill="#1f2fd8"/>
<line x1="333.30" y1="248.00" x2="333.30" y2="251.20" stroke="#1f2fd8" stroke-width="0.7"/>
<circle cx="333.30" cy="251.20" r="1.35" fill="#1f2fd8"/>
<line x1="334.60" y1="248.00" x2="334.60" y2="251.20" stroke="#1f2fd8" stroke-width="0.7"/>
<circle cx="334.60" cy="251.20" r="1.35" fill="#1f2fd8"/>
<line x1="338.70" y1="248.00" x2="338.70" y2="251.20" stroke="#1f2fd8" stroke-width="0.7"/>
<circle cx="338.70" cy="251.20" r="1.35" fill="#1f2fd8"/>
<line x1="343.20" y1="248.00" x2="343.20" y2="251.20" stroke="#1f2fd8" stroke-width="0.7"/>
<circle cx="343.20" cy="251.20" r="1.35" fill="#1f2fd8"/>
<line x1="349.40" y1="248.00" x2="349.40" y2="251.20" stroke="#1f2fd8" stroke-width="0.7"/>
<circle cx="349.40" cy="251.20" r="1.35" fill="#1f2fd8"/>
<line x1="358.30" y1="248.00" x2="358.30" y2="251.20" stroke="#1f2fd8" stroke-width="0.7"/>
<circle cx="358.30" cy="251.20" r="1.35" fill="#1f2fd8"/>
<line x1="365.60" y1="248.00" x2="365.60" y2="251.20" stroke="#1f2fd8" stroke-width="0.7"/>
<circle cx="365.60" cy="251.20" r="1.35" fill="#1f2fd8"/>
<line x1="372.30" y1="248.00" x2="372.30" y2="251.20" stroke="#1f2fd8" stroke-width="0.7"/>
<circle cx="372.30" cy="251.20" r="1.35" fill="#1f2fd8"/>
<line x1="384.40" y1="248.00" x2="384.40" y2="251.20" stroke="#1f2fd8" stroke-width="0.7"/>
<circle cx="384.40" cy="251.20" r="1.35" fill="#1f2fd8"/>
<line x1="391.20" y1="248.00" x2="391.20" y2="251.20" stroke="#1f2fd8" stroke-width="0.7"/>
<circle cx="391.20" cy="251.20" r="1.35" fill="#1f2fd8"/>
<line x1="394.40" y1="248.00" x2="394.40" y2="251.20" stroke="#1f2fd8" stroke-width="0.7"/>
<circle cx="394.40" cy="251.20" r="1.35" fill="#1f2fd8"/>
<line x1="408.50" y1="248.00" x2="408.50" y2="251.20" stroke="#1f2fd8" stroke-width="0.7"/>
<circle cx="408.50" cy="251.20" r="1.35" fill="#1f2fd8"/>
<line x1="411.90" y1="248.00" x2="411.90" y2="251.20" stroke="#1f2fd8" stroke-width="0.7"/>
<circle cx="411.90" cy="251.20" r="1.35" fill="#1f2fd8"/>
<line x1="417.30" y1="248.00" x2="417.30" y2="251.20" stroke="#1f2fd8" stroke-width="0.7"/>
<circle cx="417.30" cy="251.20" r="1.35" fill="#1f2fd8"/>
<line x1="419.20" y1="248.00" x2="419.20" y2="251.20" stroke="#1f2fd8" stroke-width="0.7"/>
<circle cx="419.20" cy="251.20" r="1.35" fill="#1f2fd8"/>
<line x1="421.50" y1="248.00" x2="421.50" y2="251.20" stroke="#1f2fd8" stroke-width="0.7"/>
<circle cx="421.50" cy="251.20" r="1.35" fill="#1f2fd8"/>
<line x1="424.00" y1="248.00" x2="424.00" y2="251.20" stroke="#1f2fd8" stroke-width="0.7"/>
<circle cx="424.00" cy="251.20" r="1.35" fill="#1f2fd8"/>
<line x1="426.90" y1="248.00" x2="426.90" y2="251.20" stroke="#1f2fd8" stroke-width="0.7"/>
<circle cx="426.90" cy="251.20" r="1.35" fill="#1f2fd8"/>
<line x1="428.80" y1="248.00" x2="428.80" y2="251.20" stroke="#1f2fd8" stroke-width="0.7"/>
<circle cx="428.80" cy="251.20" r="1.35" fill="#1f2fd8"/>
<line x1="430.80" y1="248.00" x2="430.80" y2="251.20" stroke="#1f2fd8" stroke-width="0.7"/>
<circle cx="430.80" cy="251.20" r="1.35" fill="#1f2fd8"/>
<line x1="442.70" y1="248.00" x2="442.70" y2="251.20" stroke="#1f2fd8" stroke-width="0.7"/>
<circle cx="442.70" cy="251.20" r="1.35" fill="#1f2fd8"/>
<line x1="443.80" y1="248.00" x2="443.80" y2="251.20" stroke="#1f2fd8" stroke-width="0.7"/>
<circle cx="443.80" cy="251.20" r="1.35" fill="#1f2fd8"/>
<line x1="454.80" y1="248.00" x2="454.80" y2="251.20" stroke="#1f2fd8" stroke-width="0.7"/>
<circle cx="454.80" cy="251.20" r="1.35" fill="#1f2fd8"/>
<line x1="456.20" y1="248.00" x2="456.20" y2="251.20" stroke="#1f2fd8" stroke-width="0.7"/>
<circle cx="456.20" cy="251.20" r="1.35" fill="#1f2fd8"/>
<line x1="457.70" y1="248.00" x2="457.70" y2="251.20" stroke="#1f2fd8" stroke-width="0.7"/>
<circle cx="457.70" cy="251.20" r="1.35" fill="#1f2fd8"/>
<line x1="460.60" y1="248.00" x2="460.60" y2="251.20" stroke="#1f2fd8" stroke-width="0.7"/>
<circle cx="460.60" cy="251.20" r="1.35" fill="#1f2fd8"/>
<line x1="466.90" y1="248.00" x2="466.90" y2="251.20" stroke="#1f2fd8" stroke-width="0.7"/>
<circle cx="466.90" cy="251.20" r="1.35" fill="#1f2fd8"/>
<line x1="468.30" y1="248.00" x2="468.30" y2="251.20" stroke="#1f2fd8" stroke-width="0.7"/>
<circle cx="468.30" cy="251.20" r="1.35" fill="#1f2fd8"/>
<line x1="472.10" y1="248.00" x2="472.10" y2="251.20" stroke="#1f2fd8" stroke-width="0.7"/>
<circle cx="472.10" cy="251.20" r="1.35" fill="#1f2fd8"/>
<line x1="478.80" y1="248.00" x2="478.80" y2="251.20" stroke="#1f2fd8" stroke-width="0.7"/>
<circle cx="478.80" cy="251.20" r="1.35" fill="#1f2fd8"/>
<line x1="480.80" y1="248.00" x2="480.80" y2="251.20" stroke="#1f2fd8" stroke-width="0.7"/>
<circle cx="480.80" cy="251.20" r="1.35" fill="#1f2fd8"/>
<line x1="486.20" y1="248.00" x2="486.20" y2="251.20" stroke="#1f2fd8" stroke-width="0.7"/>
<circle cx="486.20" cy="251.20" r="1.35" fill="#1f2fd8"/>
<line x1="488.50" y1="248.00" x2="488.50" y2="251.20" stroke="#1f2fd8" stroke-width="0.7"/>
<circle cx="488.50" cy="251.20" r="1.35" fill="#1f2fd8"/>
<line x1="490.40" y1="248.00" x2="490.40" y2="251.20" stroke="#1f2fd8" stroke-width="0.7"/>
<circle cx="490.40" cy="251.20" r="1.35" fill="#1f2fd8"/>
<line x1="492.70" y1="248.00" x2="492.70" y2="251.20" stroke="#1f2fd8" stroke-width="0.7"/>
<circle cx="492.70" cy="251.20" r="1.35" fill="#1f2fd8"/>
<line x1="305.50" y1="248.00" x2="305.50" y2="273.30" stroke="#1f2fd8" stroke-width="0.9"/>
<circle cx="305.50" cy="273.30" r="2.20" fill="#1f2fd8"/>
<line x1="305.40" y1="217.50" x2="305.40" y2="242.40" stroke="#55e01a" stroke-width="0.9"/>
<line x1="417.70" y1="223.50" x2="417.70" y2="242.40" stroke="#55e01a" stroke-width="0.9"/>
<line x1="298.30" y1="238.80" x2="298.30" y2="242.40" stroke="#55e01a" stroke-width="0.9"/>
<line x1="300.20" y1="238.80" x2="300.20" y2="242.40" stroke="#55e01a" stroke-width="0.9"/>
<line x1="306.90" y1="238.80" x2="306.90" y2="242.40" stroke="#55e01a" stroke-width="0.9"/>
<line x1="415.00" y1="238.50" x2="415.00" y2="242.40" stroke="#55e01a" stroke-width="0.9"/>
<line x1="417.70" y1="238.00" x2="417.70" y2="242.40" stroke="#55e01a" stroke-width="0.9"/>
<line x1="445.80" y1="238.80" x2="445.80" y2="242.40" stroke="#55e01a" stroke-width="0.9"/>
<line x1="486.50" y1="238.80" x2="486.50" y2="242.40" stroke="#55e01a" stroke-width="0.9"/>
<circle cx="298.30" cy="238.80" r="2.20" fill="#55e01a"/>
<circle cx="300.20" cy="238.80" r="2.20" fill="#55e01a"/>
<circle cx="306.90" cy="238.80" r="2.20" fill="#55e01a"/>
<circle cx="415.00" cy="238.50" r="2.20" fill="#55e01a"/>
<circle cx="417.70" cy="238.00" r="2.20" fill="#55e01a"/>
<circle cx="445.80" cy="238.80" r="2.20" fill="#55e01a"/>
<circle cx="486.50" cy="238.80" r="2.20" fill="#55e01a"/>
<circle cx="305.40" cy="217.50" r="2.20" fill="#55e01a"/>
<circle cx="417.70" cy="223.50" r="2.20" fill="#55e01a"/>
<text x="305.30" y="213.06" font-size="8.0" fill="#3ede10" text-anchor="middle">S34</text>
<text x="409.60" y="218.66" font-size="8.0" fill="#3ede10" textLength="19.20" lengthAdjust="spacingAndGlyphs">Q157</text>
<line x1="272.50" y1="281.80" x2="492.00" y2="281.80" stroke="#888" stroke-width="0.5"/>
<line x1="273.75" y1="281.80" x2="273.75" y2="283.40" stroke="#888" stroke-width="0.5"/>
<line x1="319.12" y1="281.80" x2="319.12" y2="283.40" stroke="#888" stroke-width="0.5"/>
<line x1="364.50" y1="281.80" x2="364.50" y2="283.40" stroke="#888" stroke-width="0.5"/>
<line x1="409.88" y1="281.80" x2="409.88" y2="283.40" stroke="#888" stroke-width="0.5"/>
<line x1="455.25" y1="281.80" x2="455.25" y2="283.40" stroke="#888" stroke-width="0.5"/>
<line x1="491.55" y1="281.80" x2="491.55" y2="283.40" stroke="#888" stroke-width="0.5"/>
<text x="273.75" y="292.76" font-size="7.7" fill="#222" text-anchor="middle">0</text>
<text x="364.50" y="292.76" font-size="7.7" fill="#222" text-anchor="middle">100</text>
<text x="455.25" y="292.76" font-size="7.7" fill="#222" text-anchor="middle">200</text>
<text x="482" y="292.76" font-size="7.7" fill="#222" textLength="21.4" lengthAdjust="spacingAndGlyphs">240<tspan font-size="6.4">aa</tspan></text>
<text x="276.50" y="305.55" font-size="8.8" fill="#000" font-weight="bold" textLength="30.00" lengthAdjust="spacingAndGlyphs">U2AF1</text>
<text x="8.10" y="324.65" font-size="11.3" fill="#000" font-weight="bold" textLength="8.10" lengthAdjust="spacingAndGlyphs">C</text>
<polyline points="128.2,378 128.2,397 133.4,402.8 133.4,408.5" fill="none" stroke="#111" stroke-width="1.1"/>
<polyline points="142.3,393.8 134.9,401.5 134.9,408.5" fill="none" stroke="#111" stroke-width="1.1"/>
<polyline points="132.1,413.5 132.1,428.8" fill="none" stroke="#111" stroke-width="1.1"/>
<polyline points="136.4,413.5 136.4,418.8 142.5,424.4" fill="none" stroke="#111" stroke-width="1.1"/>
<rect x="19.50" y="408.20" width="219.30" height="5.60" fill="#b4c6bb"/>
<rect x="25.00" y="408.20" width="100.40" height="5.60" fill="#ee335c"/>
<rect x="144.90" y="408.20" width="86.30" height="5.60" fill="#d2f21e"/>
<text x="71.00" y="413.18" font-size="5.8" fill="#3a0612" text-anchor="middle">RRM</text>
<text x="195.00" y="413.18" font-size="5.8" fill="#333" text-anchor="middle">RS</text>
<line x1="41.30" y1="403.80" x2="41.30" y2="408.20" stroke="#e8109c" stroke-width="0.9"/>
<circle cx="41.30" cy="403.80" r="2.00" fill="#e8109c"/>
<line x1="67.50" y1="401.30" x2="67.50" y2="408.20" stroke="#e8109c" stroke-width="0.9"/>
<circle cx="67.50" cy="401.30" r="2.30" fill="#e8109c"/>
<line x1="93.00" y1="403.80" x2="93.00" y2="408.20" stroke="#e8109c" stroke-width="0.9"/>
<circle cx="93.00" cy="403.80" r="2.00" fill="#e8109c"/>
<line x1="110.40" y1="403.40" x2="110.40" y2="408.20" stroke="#e8109c" stroke-width="0.9"/>
<circle cx="110.40" cy="403.40" r="2.00" fill="#e8109c"/>
<circle cx="123.3" cy="358.8" r="16.90" fill="none" stroke="#770000" stroke-width="11.40"/>
<path d="M126.84,381.12 A22.6,22.6 0 0 1 101.04,362.72 L112.27,360.74 A11.2,11.2 0 0 0 125.05,369.86 Z" fill="#f21616"/>
<path d="M101.04,362.72 A22.6,22.6 0 0 1 108.47,341.74 L115.95,350.35 A11.2,11.2 0 0 0 112.27,360.74 Z" fill="#f35c86"/>
<path d="M108.47,341.74 A22.6,22.6 0 0 1 117.83,336.87 L120.59,347.93 A11.2,11.2 0 0 0 115.95,350.35 Z" fill="#8212f2"/>
<path d="M117.83,336.87 A22.6,22.6 0 0 1 119.76,336.48 L121.55,347.74 A11.2,11.2 0 0 0 120.59,347.93 Z" fill="#f4c21e"/>
<path d="M119.76,336.48 A22.6,22.6 0 0 1 121.33,336.29 L122.32,347.64 A11.2,11.2 0 0 0 121.55,347.74 Z" fill="#dfe8ec"/>
<path d="M121.33,336.29 A22.6,22.6 0 0 1 122.51,336.21 L122.91,347.61 A11.2,11.2 0 0 0 122.32,347.64 Z" fill="#2a2ac8"/>
<circle cx="123.30" cy="358.80" r="11.20" fill="#fff"/>
<text x="123.30" y="361.28" font-size="8.6" fill="#111" text-anchor="middle">469</text>
<circle cx="148.5" cy="384.4" r="8.60" fill="none" stroke="#770000" stroke-width="5.40"/>
<path d="M158.48,379.09 A11.3,11.3 0 0 1 159.63,382.44 L154.31,383.38 A5.9,5.9 0 0 0 153.71,381.63 Z" fill="#8212f2"/>
<text x="148.50" y="387.54" font-size="8.2" fill="#111" text-anchor="middle">19</text>
<circle cx="124.5" cy="437.8" r="8.30" fill="none" stroke="#8212f2" stroke-width="6.00"/>
<text x="124.50" y="441.14" font-size="8.2" fill="#111" text-anchor="middle">18</text>
<circle cx="147.7" cy="430.4" r="6.25" fill="none" stroke="#8212f2" stroke-width="3.90"/>
<text x="147.70" y="433.54" font-size="8.2" fill="#111" text-anchor="middle">9</text>
<line x1="118.50" y1="331.50" x2="121.50" y2="336.50" stroke="#a8c0c8" stroke-width="0.5"/>
<line x1="124.40" y1="322.50" x2="123.20" y2="336.20" stroke="#a8c0c8" stroke-width="0.5"/>
<line x1="128.50" y1="332.50" x2="123.90" y2="336.30" stroke="#a8c0c8" stroke-width="0.5"/>
<text x="113.70" y="321.52" font-size="7.6" fill="#2a2a2a" textLength="19.30" lengthAdjust="spacingAndGlyphs">P95A</text>
<text x="103.00" y="330.72" font-size="7.6" fill="#2a2a2a" textLength="18.40" lengthAdjust="spacingAndGlyphs">P95T</text>
<text x="127.50" y="332.32" font-size="7.6" fill="#2a2a2a" textLength="67.70" lengthAdjust="spacingAndGlyphs">P95R + S101Rfs*21</text>
<text x="60.80" y="340.02" font-size="7.6" fill="#2a2a2a" textLength="47.70" lengthAdjust="spacingAndGlyphs">P95_R102del</text>
<text x="80.20" y="353.72" font-size="7.6" fill="#2a2a2a" textLength="18.10" lengthAdjust="spacingAndGlyphs">P95R</text>
<text x="147.00" y="350.72" font-size="7.6" fill="#2a2a2a" textLength="18.40" lengthAdjust="spacingAndGlyphs">P95H</text>
<text x="90.00" y="381.52" font-size="7.6" fill="#2a2a2a" textLength="18.50" lengthAdjust="spacingAndGlyphs">P95L</text>
<text x="160.00" y="379.42" font-size="7.6" fill="#2a2a2a" textLength="36.80" lengthAdjust="spacingAndGlyphs">P96fs*136</text>
<text x="160.00" y="394.52" font-size="7.6" fill="#2a2a2a" textLength="17.70" lengthAdjust="spacingAndGlyphs">P96L</text>
<text x="100.00" y="458.22" font-size="7.6" fill="#2a2a2a" textLength="27.50" lengthAdjust="spacingAndGlyphs">R94dup</text>
<text x="142.00" y="447.42" font-size="7.6" fill="#2a2a2a" textLength="40.70" lengthAdjust="spacingAndGlyphs">S101Rfs*21</text>
<text x="12.00" y="431.15" font-size="8.8" fill="#000" font-weight="bold" textLength="28.00" lengthAdjust="spacingAndGlyphs">SRSF2</text>
<text x="258.80" y="324.55" font-size="11.3" fill="#000" font-weight="bold" textLength="8.10" lengthAdjust="spacingAndGlyphs">D</text>
<text transform="translate(255.81,380.50) rotate(-90)" text-anchor="middle" font-size="8.4" font-weight="bold" fill="#111" textLength="39" lengthAdjust="spacingAndGlyphs"># Mutations</text>
<text x="264.90" y="356.90" font-size="8.1" fill="#222" text-anchor="middle">7</text>
<text x="264.90" y="410.10" font-size="8.1" fill="#222" text-anchor="middle">0</text>
<line x1="270.70" y1="353.20" x2="270.70" y2="406.00" stroke="#b8c8c0" stroke-width="0.7"/>
<line x1="280.40" y1="394.20" x2="280.40" y2="410.00" stroke="#b4c4b2" stroke-width="1.1"/>
<path d="M279.40,395.40 L280.40,393.60 L281.40,395.40" fill="none" stroke="#b4c4b2" stroke-width="0.6"/>
<line x1="287.30" y1="394.20" x2="287.30" y2="410.00" stroke="#b4c4b2" stroke-width="1.1"/>
<path d="M286.30,395.40 L287.30,393.60 L288.30,395.40" fill="none" stroke="#b4c4b2" stroke-width="0.6"/>
<line x1="288.90" y1="394.20" x2="288.90" y2="410.00" stroke="#b4c4b2" stroke-width="1.1"/>
<path d="M287.90,395.40 L288.90,393.60 L289.90,395.40" fill="none" stroke="#b4c4b2" stroke-width="0.6"/>
<line x1="290.30" y1="394.20" x2="290.30" y2="410.00" stroke="#b4c4b2" stroke-width="1.1"/>
<path d="M289.30,395.40 L290.30,393.60 L291.30,395.40" fill="none" stroke="#b4c4b2" stroke-width="0.6"/>
<line x1="297.70" y1="394.20" x2="297.70" y2="410.00" stroke="#b4c4b2" stroke-width="1.1"/>
<path d="M296.70,395.40 L297.70,393.60 L298.70,395.40" fill="none" stroke="#b4c4b2" stroke-width="0.6"/>
<line x1="298.80" y1="394.20" x2="298.80" y2="410.00" stroke="#b4c4b2" stroke-width="1.1"/>
<path d="M297.80,395.40 L298.80,393.60 L299.80,395.40" fill="none" stroke="#b4c4b2" stroke-width="0.6"/>
<line x1="323.50" y1="394.20" x2="323.50" y2="410.00" stroke="#b4c4b2" stroke-width="1.1"/>
<path d="M322.50,395.40 L323.50,393.60 L324.50,395.40" fill="none" stroke="#b4c4b2" stroke-width="0.6"/>
<line x1="325.40" y1="394.20" x2="325.40" y2="410.00" stroke="#b4c4b2" stroke-width="1.1"/>
<path d="M324.40,395.40 L325.40,393.60 L326.40,395.40" fill="none" stroke="#b4c4b2" stroke-width="0.6"/>
<line x1="329.50" y1="394.20" x2="329.50" y2="410.00" stroke="#b4c4b2" stroke-width="1.1"/>
<path d="M328.50,395.40 L329.50,393.60 L330.50,395.40" fill="none" stroke="#b4c4b2" stroke-width="0.6"/>
<line x1="331.20" y1="394.20" x2="331.20" y2="410.00" stroke="#b4c4b2" stroke-width="1.1"/>
<path d="M330.20,395.40 L331.20,393.60 L332.20,395.40" fill="none" stroke="#b4c4b2" stroke-width="0.6"/>
<line x1="333.50" y1="394.20" x2="333.50" y2="410.00" stroke="#b4c4b2" stroke-width="1.1"/>
<path d="M332.50,395.40 L333.50,393.60 L334.50,395.40" fill="none" stroke="#b4c4b2" stroke-width="0.6"/>
<line x1="336.90" y1="394.20" x2="336.90" y2="410.00" stroke="#b4c4b2" stroke-width="1.1"/>
<path d="M335.90,395.40 L336.90,393.60 L337.90,395.40" fill="none" stroke="#b4c4b2" stroke-width="0.6"/>
<line x1="354.90" y1="394.20" x2="354.90" y2="410.00" stroke="#b4c4b2" stroke-width="1.1"/>
<path d="M353.90,395.40 L354.90,393.60 L355.90,395.40" fill="none" stroke="#b4c4b2" stroke-width="0.6"/>
<line x1="358.80" y1="394.20" x2="358.80" y2="410.00" stroke="#b4c4b2" stroke-width="1.1"/>
<path d="M357.80,395.40 L358.80,393.60 L359.80,395.40" fill="none" stroke="#b4c4b2" stroke-width="0.6"/>
<line x1="360.50" y1="394.20" x2="360.50" y2="410.00" stroke="#b4c4b2" stroke-width="1.1"/>
<path d="M359.50,395.40 L360.50,393.60 L361.50,395.40" fill="none" stroke="#b4c4b2" stroke-width="0.6"/>
<line x1="364.60" y1="394.20" x2="364.60" y2="410.00" stroke="#b4c4b2" stroke-width="1.1"/>
<path d="M363.60,395.40 L364.60,393.60 L365.60,395.40" fill="none" stroke="#b4c4b2" stroke-width="0.6"/>
<line x1="375.00" y1="394.20" x2="375.00" y2="410.00" stroke="#b4c4b2" stroke-width="1.1"/>
<path d="M374.00,395.40 L375.00,393.60 L376.00,395.40" fill="none" stroke="#b4c4b2" stroke-width="0.6"/>
<line x1="386.50" y1="394.20" x2="386.50" y2="410.00" stroke="#b4c4b2" stroke-width="1.1"/>
<path d="M385.50,395.40 L386.50,393.60 L387.50,395.40" fill="none" stroke="#b4c4b2" stroke-width="0.6"/>
<line x1="387.90" y1="394.20" x2="387.90" y2="410.00" stroke="#b4c4b2" stroke-width="1.1"/>
<path d="M386.90,395.40 L387.90,393.60 L388.90,395.40" fill="none" stroke="#b4c4b2" stroke-width="0.6"/>
<line x1="394.10" y1="394.20" x2="394.10" y2="410.00" stroke="#b4c4b2" stroke-width="1.1"/>
<path d="M393.10,395.40 L394.10,393.60 L395.10,395.40" fill="none" stroke="#b4c4b2" stroke-width="0.6"/>
<line x1="395.80" y1="394.20" x2="395.80" y2="410.00" stroke="#b4c4b2" stroke-width="1.1"/>
<path d="M394.80,395.40 L395.80,393.60 L396.80,395.40" fill="none" stroke="#b4c4b2" stroke-width="0.6"/>
<line x1="397.00" y1="394.20" x2="397.00" y2="410.00" stroke="#b4c4b2" stroke-width="1.1"/>
<path d="M396.00,395.40 L397.00,393.60 L398.00,395.40" fill="none" stroke="#b4c4b2" stroke-width="0.6"/>
<line x1="409.00" y1="394.20" x2="409.00" y2="410.00" stroke="#b4c4b2" stroke-width="1.1"/>
<path d="M408.00,395.40 L409.00,393.60 L410.00,395.40" fill="none" stroke="#b4c4b2" stroke-width="0.6"/>
<line x1="410.20" y1="394.20" x2="410.20" y2="410.00" stroke="#b4c4b2" stroke-width="1.1"/>
<path d="M409.20,395.40 L410.20,393.60 L411.20,395.40" fill="none" stroke="#b4c4b2" stroke-width="0.6"/>
<line x1="413.80" y1="394.20" x2="413.80" y2="410.00" stroke="#b4c4b2" stroke-width="1.1"/>
<path d="M412.80,395.40 L413.80,393.60 L414.80,395.40" fill="none" stroke="#b4c4b2" stroke-width="0.6"/>
<line x1="415.00" y1="394.20" x2="415.00" y2="410.00" stroke="#b4c4b2" stroke-width="1.1"/>
<path d="M414.00,395.40 L415.00,393.60 L416.00,395.40" fill="none" stroke="#b4c4b2" stroke-width="0.6"/>
<line x1="422.30" y1="394.20" x2="422.30" y2="410.00" stroke="#b4c4b2" stroke-width="1.1"/>
<path d="M421.30,395.40 L422.30,393.60 L423.30,395.40" fill="none" stroke="#b4c4b2" stroke-width="0.6"/>
<line x1="426.30" y1="394.20" x2="426.30" y2="410.00" stroke="#b4c4b2" stroke-width="1.1"/>
<path d="M425.30,395.40 L426.30,393.60 L427.30,395.40" fill="none" stroke="#b4c4b2" stroke-width="0.6"/>
<line x1="428.30" y1="394.20" x2="428.30" y2="410.00" stroke="#b4c4b2" stroke-width="1.1"/>
<path d="M427.30,395.40 L428.30,393.60 L429.30,395.40" fill="none" stroke="#b4c4b2" stroke-width="0.6"/>
<rect x="272.80" y="410.00" width="232.40" height="7.00" fill="#c2cec4"/>
<line x1="285.80" y1="378.00" x2="285.80" y2="410.00" stroke="#b4c4b2" stroke-width="1.2"/>
<line x1="296.20" y1="386.60" x2="296.20" y2="410.00" stroke="#b4c4b2" stroke-width="1.2"/>
<line x1="299.30" y1="386.60" x2="299.30" y2="410.00" stroke="#b4c4b2" stroke-width="1.2"/>
<line x1="309.20" y1="377.00" x2="309.20" y2="410.00" stroke="#b4c4b2" stroke-width="1.2"/>
<line x1="333.60" y1="368.90" x2="333.60" y2="410.00" stroke="#b4c4b2" stroke-width="1.2"/>
<line x1="346.80" y1="387.10" x2="346.80" y2="410.00" stroke="#b4c4b2" stroke-width="1.2"/>
<line x1="389.40" y1="385.90" x2="389.40" y2="410.00" stroke="#b4c4b2" stroke-width="1.2"/>
<line x1="405.60" y1="386.70" x2="405.60" y2="410.00" stroke="#b4c4b2" stroke-width="1.2"/>
<line x1="412.30" y1="368.40" x2="412.30" y2="410.00" stroke="#b4c4b2" stroke-width="1.2"/>
<line x1="414.70" y1="342.30" x2="414.70" y2="410.00" stroke="#b4c4b2" stroke-width="1.2"/>
<line x1="423.60" y1="386.70" x2="423.60" y2="410.00" stroke="#b4c4b2" stroke-width="1.2"/>
<line x1="436.50" y1="377.90" x2="436.50" y2="410.00" stroke="#b4c4b2" stroke-width="1.2"/>
<line x1="446.80" y1="394.80" x2="446.80" y2="410.00" stroke="#b4c4b2" stroke-width="1.2"/>
<line x1="450.00" y1="394.80" x2="450.00" y2="410.00" stroke="#b4c4b2" stroke-width="1.2"/>
<line x1="452.70" y1="394.80" x2="452.70" y2="410.00" stroke="#b4c4b2" stroke-width="1.2"/>
<line x1="462.20" y1="394.80" x2="462.20" y2="410.00" stroke="#b4c4b2" stroke-width="1.2"/>
<line x1="496.30" y1="384.90" x2="496.30" y2="410.00" stroke="#b4c4b2" stroke-width="1.2"/>
<circle cx="285.80" cy="378.00" r="3.10" fill="#0a0a0a" stroke="#fff" stroke-width="0.3"/>
<circle cx="296.20" cy="386.60" r="3.10" fill="#0a0a0a" stroke="#fff" stroke-width="0.3"/>
<circle cx="299.30" cy="386.60" r="3.10" fill="#0a0a0a" stroke="#fff" stroke-width="0.3"/>
<circle cx="309.20" cy="377.00" r="3.10" fill="#0a0a0a" stroke="#fff" stroke-width="0.3"/>
<circle cx="333.60" cy="368.90" r="3.10" fill="#0a0a0a" stroke="#fff" stroke-width="0.3"/>
<circle cx="346.80" cy="387.10" r="3.10" fill="#0a0a0a" stroke="#fff" stroke-width="0.3"/>
<circle cx="389.40" cy="385.90" r="3.10" fill="#0a0a0a" stroke="#fff" stroke-width="0.3"/>
<circle cx="405.60" cy="386.70" r="3.10" fill="#0a0a0a" stroke="#fff" stroke-width="0.3"/>
<circle cx="412.30" cy="368.40" r="3.10" fill="#0a0a0a" stroke="#fff" stroke-width="0.3"/>
<circle cx="414.70" cy="342.30" r="3.10" fill="#0a0a0a" stroke="#fff" stroke-width="0.3"/>
<circle cx="423.60" cy="386.70" r="3.10" fill="#0a0a0a" stroke="#fff" stroke-width="0.3"/>
<circle cx="436.50" cy="377.90" r="3.10" fill="#0a0a0a" stroke="#fff" stroke-width="0.3"/>
<circle cx="446.80" cy="394.80" r="3.10" fill="#0a0a0a" stroke="#fff" stroke-width="0.3"/>
<circle cx="450.00" cy="394.80" r="3.10" fill="#0a0a0a" stroke="#fff" stroke-width="0.3"/>
<circle cx="452.70" cy="394.80" r="3.10" fill="#0a0a0a" stroke="#fff" stroke-width="0.3"/>
<circle cx="462.20" cy="394.80" r="3.10" fill="#0a0a0a" stroke="#fff" stroke-width="0.3"/>
<circle cx="496.30" cy="384.90" r="3.10" fill="#0a0a0a" stroke="#fff" stroke-width="0.3"/>
<rect x="354.30" y="408.30" width="10.90" height="10.60" fill="#3ee01e" stroke="#9aa890" stroke-width="0.3"/>
<text x="359.75" y="416.11" font-size="7" fill="#111" text-anchor="middle">Zn</text>
<rect x="391.10" y="408.30" width="27.10" height="10.60" fill="#ec3d5c" stroke="#9aa890" stroke-width="0.3"/>
<text x="404.65" y="416.11" font-size="7" fill="#5a0a14" text-anchor="middle">RRM</text>
<rect x="427.80" y="408.30" width="11.80" height="10.60" fill="#3ee01e" stroke="#9aa890" stroke-width="0.3"/>
<text x="433.70" y="416.11" font-size="7" fill="#111" text-anchor="middle">Zn</text>
<rect x="454.20" y="408.30" width="42.00" height="10.60" fill="#e2e428" stroke="#9aa890" stroke-width="0.3"/>
<text x="475.20" y="416.11" font-size="7" fill="#333" text-anchor="middle">RS</text>
<line x1="272.70" y1="421.80" x2="503.00" y2="421.80" stroke="#999" stroke-width="0.5"/>
<line x1="272.80" y1="421.80" x2="272.80" y2="423.60" stroke="#999" stroke-width="0.5"/>
<line x1="296.65" y1="421.80" x2="296.65" y2="423.60" stroke="#999" stroke-width="0.5"/>
<line x1="320.50" y1="421.80" x2="320.50" y2="423.60" stroke="#999" stroke-width="0.5"/>
<line x1="344.35" y1="421.80" x2="344.35" y2="423.60" stroke="#999" stroke-width="0.5"/>
<line x1="368.20" y1="421.80" x2="368.20" y2="423.60" stroke="#999" stroke-width="0.5"/>
<line x1="392.05" y1="421.80" x2="392.05" y2="423.60" stroke="#999" stroke-width="0.5"/>
<line x1="415.90" y1="421.80" x2="415.90" y2="423.60" stroke="#999" stroke-width="0.5"/>
<line x1="439.75" y1="421.80" x2="439.75" y2="423.60" stroke="#999" stroke-width="0.5"/>
<line x1="463.60" y1="421.80" x2="463.60" y2="423.60" stroke="#999" stroke-width="0.5"/>
<line x1="487.45" y1="421.80" x2="487.45" y2="423.60" stroke="#999" stroke-width="0.5"/>
<line x1="502.80" y1="421.80" x2="502.80" y2="423.60" stroke="#999" stroke-width="0.5"/>
<text x="272.50" y="434.60" font-size="8.1" fill="#222" text-anchor="middle">0</text>
<text x="320.35" y="434.60" font-size="8.1" fill="#222" text-anchor="middle">100</text>
<text x="368.20" y="434.60" font-size="8.1" fill="#222" text-anchor="middle">200</text>
<text x="416.05" y="434.60" font-size="8.1" fill="#222" text-anchor="middle">300</text>
<text x="463.90" y="434.60" font-size="8.1" fill="#222" text-anchor="middle">400</text>
<text x="493" y="434.60" font-size="8.1" fill="#222">482<tspan font-size="6">aa</tspan></text>
<text x="275.40" y="371.99" font-size="7.8" fill="#2a2a2a" textLength="37.60" lengthAdjust="spacingAndGlyphs">K28Ef2*26</text>
<text x="311.80" y="385.49" font-size="7.8" fill="#2a2a2a" textLength="20.00" lengthAdjust="spacingAndGlyphs">W75*</text>
<text x="324.80" y="363.39" font-size="7.8" fill="#2a2a2a" textLength="21.20" lengthAdjust="spacingAndGlyphs">R126*</text>
<text x="387.50" y="363.09" font-size="7.8" fill="#2a2a2a" textLength="20.80" lengthAdjust="spacingAndGlyphs">R290*</text>
<text x="421.70" y="345.09" font-size="7.8" fill="#2a2a2a" textLength="20.80" lengthAdjust="spacingAndGlyphs">R295*</text>
<text x="427.10" y="371.49" font-size="7.8" fill="#2a2a2a" textLength="25.10" lengthAdjust="spacingAndGlyphs">W340*</text>
<text x="479.00" y="379.29" font-size="7.8" fill="#2a2a2a" textLength="28.40" lengthAdjust="spacingAndGlyphs">R467Vfs</text>
<text x="271.80" y="446.45" font-size="8.8" fill="#000" font-weight="bold" textLength="34.20" lengthAdjust="spacingAndGlyphs">ZRSR2</text>
<text x="9.10" y="485.40" font-size="11.3" fill="#000" font-weight="bold" textLength="5.90" lengthAdjust="spacingAndGlyphs">E</text>
<text x="22.90" y="519.94" font-size="9.6" fill="#111" font-weight="bold" textLength="45.60" lengthAdjust="spacingAndGlyphs">U1 snRNA</text>
<line x1="51.90" y1="535.10" x2="60.70" y2="535.10" stroke="#c9dade" stroke-width="0.6"/>
<line x1="51.90" y1="538.70" x2="60.70" y2="538.70" stroke="#c9dade" stroke-width="0.6"/>
<line x1="51.90" y1="542.30" x2="60.70" y2="542.30" stroke="#c9dade" stroke-width="0.6"/>
<line x1="52.30" y1="554.20" x2="60.70" y2="554.20" stroke="#c9dade" stroke-width="0.6"/>
<line x1="52.30" y1="557.80" x2="60.70" y2="557.80" stroke="#c9dade" stroke-width="0.6"/>
<line x1="52.30" y1="561.30" x2="60.70" y2="561.30" stroke="#c9dade" stroke-width="0.6"/>
<line x1="52.30" y1="564.90" x2="60.70" y2="564.90" stroke="#c9dade" stroke-width="0.6"/>
<line x1="52.30" y1="568.50" x2="60.70" y2="568.50" stroke="#c9dade" stroke-width="0.6"/>
<line x1="84.80" y1="550.40" x2="84.80" y2="557.00" stroke="#c9dade" stroke-width="0.6"/>
<line x1="88.65" y1="550.40" x2="88.65" y2="557.00" stroke="#c9dade" stroke-width="0.6"/>
<line x1="92.50" y1="550.40" x2="92.50" y2="557.00" stroke="#c9dade" stroke-width="0.6"/>
<line x1="96.35" y1="550.40" x2="96.35" y2="557.00" stroke="#c9dade" stroke-width="0.6"/>
<line x1="100.20" y1="550.40" x2="100.20" y2="557.00" stroke="#c9dade" stroke-width="0.6"/>
<line x1="104.05" y1="550.40" x2="104.05" y2="557.00" stroke="#c9dade" stroke-width="0.6"/>
<line x1="107.90" y1="550.40" x2="107.90" y2="557.00" stroke="#c9dade" stroke-width="0.6"/>
<line x1="111.75" y1="550.40" x2="111.75" y2="557.00" stroke="#c9dade" stroke-width="0.6"/>
<line x1="115.60" y1="550.40" x2="115.60" y2="557.00" stroke="#c9dade" stroke-width="0.6"/>
<line x1="119.45" y1="550.40" x2="119.45" y2="557.00" stroke="#c9dade" stroke-width="0.6"/>
<line x1="136.60" y1="550.40" x2="136.60" y2="557.00" stroke="#c9dade" stroke-width="0.6"/>
<line x1="140.45" y1="550.40" x2="140.45" y2="557.00" stroke="#c9dade" stroke-width="0.6"/>
<line x1="144.30" y1="550.40" x2="144.30" y2="557.00" stroke="#c9dade" stroke-width="0.6"/>
<line x1="148.15" y1="550.40" x2="148.15" y2="557.00" stroke="#c9dade" stroke-width="0.6"/>
<line x1="152.00" y1="550.40" x2="152.00" y2="557.00" stroke="#c9dade" stroke-width="0.6"/>
<line x1="155.85" y1="550.40" x2="155.85" y2="557.00" stroke="#c9dade" stroke-width="0.6"/>
<line x1="159.70" y1="550.40" x2="159.70" y2="557.00" stroke="#c9dade" stroke-width="0.6"/>
<line x1="163.55" y1="550.40" x2="163.55" y2="557.00" stroke="#c9dade" stroke-width="0.6"/>
<line x1="167.40" y1="550.40" x2="167.40" y2="557.00" stroke="#c9dade" stroke-width="0.6"/>
<line x1="171.25" y1="550.40" x2="171.25" y2="557.00" stroke="#c9dade" stroke-width="0.6"/>
<line x1="123.50" y1="562.20" x2="131.60" y2="562.20" stroke="#c9dade" stroke-width="0.6"/>
<line x1="123.50" y1="565.60" x2="131.60" y2="565.60" stroke="#c9dade" stroke-width="0.6"/>
<line x1="123.50" y1="569.00" x2="131.60" y2="569.00" stroke="#c9dade" stroke-width="0.6"/>
<line x1="123.80" y1="544.40" x2="131.60" y2="544.40" stroke="#c9dade" stroke-width="0.6"/>
<line x1="123.80" y1="540.60" x2="131.60" y2="540.60" stroke="#c9dade" stroke-width="0.6"/>
<line x1="123.80" y1="536.80" x2="131.60" y2="536.80" stroke="#c9dade" stroke-width="0.6"/>
<line x1="123.80" y1="533.00" x2="131.60" y2="533.00" stroke="#c9dade" stroke-width="0.6"/>
<line x1="123.30" y1="516.80" x2="132.20" y2="516.80" stroke="#c9dade" stroke-width="0.6"/>
<line x1="123.30" y1="513.35" x2="132.20" y2="513.35" stroke="#c9dade" stroke-width="0.6"/>
<line x1="123.30" y1="509.90" x2="132.20" y2="509.90" stroke="#c9dade" stroke-width="0.6"/>
<line x1="123.30" y1="506.45" x2="132.20" y2="506.45" stroke="#c9dade" stroke-width="0.6"/>
<line x1="123.30" y1="503.00" x2="132.20" y2="503.00" stroke="#c9dade" stroke-width="0.6"/>
<line x1="123.30" y1="499.55" x2="132.20" y2="499.55" stroke="#c9dade" stroke-width="0.6"/>
<line x1="123.30" y1="496.10" x2="132.20" y2="496.10" stroke="#c9dade" stroke-width="0.6"/>
<line x1="123.30" y1="492.65" x2="132.20" y2="492.65" stroke="#c9dade" stroke-width="0.6"/>
<line x1="123.30" y1="489.20" x2="132.20" y2="489.20" stroke="#c9dade" stroke-width="0.6"/>
<rect x="141.70" y="569.30" width="28.50" height="6.50" fill="#eeee2a" stroke="#b9b020" stroke-width="0.5"/>
<circle cx="47.70" cy="572.40" r="1.45" fill="#fff" stroke="#7d8c8d" stroke-width="0.42"/>
<circle cx="51.10" cy="572.40" r="1.45" fill="#fff" stroke="#7d8c8d" stroke-width="0.42"/>
<circle cx="54.50" cy="572.40" r="1.45" fill="#fff" stroke="#7d8c8d" stroke-width="0.42"/>
<circle cx="57.90" cy="572.40" r="1.45" fill="#fff" stroke="#7d8c8d" stroke-width="0.42"/>
<circle cx="61.30" cy="572.40" r="1.45" fill="#fff" stroke="#7d8c8d" stroke-width="0.42"/>
<circle cx="64.70" cy="572.40" r="1.45" fill="#fff" stroke="#7d8c8d" stroke-width="0.42"/>
<circle cx="68.10" cy="572.40" r="1.45" fill="#fff" stroke="#7d8c8d" stroke-width="0.42"/>
<circle cx="71.50" cy="572.40" r="1.45" fill="#fff" stroke="#7d8c8d" stroke-width="0.42"/>
<circle cx="74.90" cy="572.40" r="1.45" fill="#fff" stroke="#7d8c8d" stroke-width="0.42"/>
<circle cx="78.30" cy="572.40" r="1.45" fill="#fff" stroke="#7d8c8d" stroke-width="0.42"/>
<circle cx="81.70" cy="572.40" r="1.45" fill="#fff" stroke="#7d8c8d" stroke-width="0.42"/>
<circle cx="85.10" cy="572.40" r="1.45" fill="#fff" stroke="#7d8c8d" stroke-width="0.42"/>
<circle cx="88.50" cy="572.40" r="1.45" fill="#fff" stroke="#7d8c8d" stroke-width="0.42"/>
<circle cx="91.90" cy="572.40" r="1.45" fill="#fff" stroke="#7d8c8d" stroke-width="0.42"/>
<circle cx="95.30" cy="572.40" r="1.45" fill="#fff" stroke="#7d8c8d" stroke-width="0.42"/>
<circle cx="98.70" cy="572.40" r="1.45" fill="#fff" stroke="#7d8c8d" stroke-width="0.42"/>
<circle cx="102.10" cy="572.40" r="1.45" fill="#fff" stroke="#7d8c8d" stroke-width="0.42"/>
<circle cx="105.50" cy="572.40" r="1.45" fill="#fff" stroke="#7d8c8d" stroke-width="0.42"/>
<circle cx="108.90" cy="572.40" r="1.45" fill="#fff" stroke="#7d8c8d" stroke-width="0.42"/>
<circle cx="112.30" cy="572.40" r="1.45" fill="#fff" stroke="#7d8c8d" stroke-width="0.42"/>
<circle cx="115.70" cy="572.40" r="1.45" fill="#fff" stroke="#7d8c8d" stroke-width="0.42"/>
<circle cx="119.10" cy="572.40" r="1.45" fill="#fff" stroke="#7d8c8d" stroke-width="0.42"/>
<circle cx="122.50" cy="572.40" r="1.45" fill="#fff" stroke="#7d8c8d" stroke-width="0.42"/>
<circle cx="125.90" cy="572.40" r="1.45" fill="#fff" stroke="#7d8c8d" stroke-width="0.42"/>
<circle cx="129.30" cy="572.40" r="1.45" fill="#fff" stroke="#7d8c8d" stroke-width="0.42"/>
<circle cx="132.70" cy="572.40" r="1.45" fill="#fff" stroke="#7d8c8d" stroke-width="0.42"/>
<circle cx="136.10" cy="572.40" r="1.45" fill="#fff" stroke="#7d8c8d" stroke-width="0.42"/>
<circle cx="139.50" cy="572.40" r="1.45" fill="#fff" stroke="#7d8c8d" stroke-width="0.42"/>
<circle cx="49.60" cy="531.90" r="1.45" fill="#fff" stroke="#7d8c8d" stroke-width="0.42"/>
<circle cx="52.30" cy="530.30" r="1.45" fill="#fff" stroke="#7d8c8d" stroke-width="0.42"/>
<circle cx="55.10" cy="529.60" r="1.45" fill="#fff" stroke="#7d8c8d" stroke-width="0.42"/>
<circle cx="58.70" cy="529.60" r="1.45" fill="#fff" stroke="#7d8c8d" stroke-width="0.42"/>
<circle cx="61.10" cy="530.70" r="1.45" fill="#fff" stroke="#7d8c8d" stroke-width="0.42"/>
<circle cx="63.40" cy="532.30" r="1.45" fill="#fff" stroke="#7d8c8d" stroke-width="0.42"/>
<circle cx="51.90" cy="535.10" r="1.45" fill="#fff" stroke="#7d8c8d" stroke-width="0.42"/>
<circle cx="60.70" cy="535.10" r="1.45" fill="#fff" stroke="#7d8c8d" stroke-width="0.42"/>
<circle cx="51.90" cy="538.70" r="1.45" fill="#fff" stroke="#7d8c8d" stroke-width="0.42"/>
<circle cx="60.70" cy="538.70" r="1.45" fill="#fff" stroke="#7d8c8d" stroke-width="0.42"/>
<circle cx="51.90" cy="542.30" r="1.45" fill="#fff" stroke="#7d8c8d" stroke-width="0.42"/>
<circle cx="60.70" cy="542.30" r="1.45" fill="#fff" stroke="#7d8c8d" stroke-width="0.42"/>
<circle cx="50.20" cy="545.20" r="1.45" fill="#fff" stroke="#7d8c8d" stroke-width="0.42"/>
<circle cx="49.30" cy="548.20" r="1.45" fill="#fff" stroke="#7d8c8d" stroke-width="0.42"/>
<circle cx="50.50" cy="551.20" r="1.45" fill="#fff" stroke="#7d8c8d" stroke-width="0.42"/>
<circle cx="62.70" cy="545.20" r="1.45" fill="#fff" stroke="#7d8c8d" stroke-width="0.42"/>
<circle cx="63.60" cy="548.20" r="1.45" fill="#fff" stroke="#7d8c8d" stroke-width="0.42"/>
<circle cx="62.50" cy="551.20" r="1.45" fill="#fff" stroke="#7d8c8d" stroke-width="0.42"/>
<circle cx="52.30" cy="554.20" r="1.45" fill="#fff" stroke="#7d8c8d" stroke-width="0.42"/>
<circle cx="60.70" cy="554.20" r="1.45" fill="#fff" stroke="#7d8c8d" stroke-width="0.42"/>
<circle cx="52.30" cy="557.80" r="1.45" fill="#fff" stroke="#7d8c8d" stroke-width="0.42"/>
<circle cx="60.70" cy="557.80" r="1.45" fill="#fff" stroke="#7d8c8d" stroke-width="0.42"/>
<circle cx="52.30" cy="561.30" r="1.45" fill="#fff" stroke="#7d8c8d" stroke-width="0.42"/>
<circle cx="60.70" cy="561.30" r="1.45" fill="#fff" stroke="#7d8c8d" stroke-width="0.42"/>
<circle cx="52.30" cy="564.90" r="1.45" fill="#fff" stroke="#7d8c8d" stroke-width="0.42"/>
<circle cx="60.70" cy="564.90" r="1.45" fill="#fff" stroke="#7d8c8d" stroke-width="0.42"/>
<circle cx="52.30" cy="568.50" r="1.45" fill="#fff" stroke="#7d8c8d" stroke-width="0.42"/>
<circle cx="60.70" cy="568.50" r="1.45" fill="#fff" stroke="#7d8c8d" stroke-width="0.42"/>
<circle cx="81.05" cy="558.23" r="1.45" fill="#fff" stroke="#7d8c8d" stroke-width="0.42"/>
<circle cx="78.94" cy="560.48" r="1.45" fill="#fff" stroke="#7d8c8d" stroke-width="0.42"/>
<circle cx="76.20" cy="561.55" r="1.45" fill="#fff" stroke="#7d8c8d" stroke-width="0.42"/>
<circle cx="73.33" cy="561.23" r="1.45" fill="#fff" stroke="#7d8c8d" stroke-width="0.42"/>
<circle cx="70.81" cy="559.60" r="1.45" fill="#fff" stroke="#7d8c8d" stroke-width="0.42"/>
<circle cx="69.10" cy="556.93" r="1.45" fill="#fff" stroke="#7d8c8d" stroke-width="0.42"/>
<circle cx="68.50" cy="553.70" r="1.45" fill="#fff" stroke="#7d8c8d" stroke-width="0.42"/>
<circle cx="69.10" cy="550.47" r="1.45" fill="#fff" stroke="#7d8c8d" stroke-width="0.42"/>
<circle cx="70.81" cy="547.80" r="1.45" fill="#fff" stroke="#7d8c8d" stroke-width="0.42"/>
<circle cx="73.33" cy="546.17" r="1.45" fill="#fff" stroke="#7d8c8d" stroke-width="0.42"/>
<circle cx="76.20" cy="545.85" r="1.45" fill="#fff" stroke="#7d8c8d" stroke-width="0.42"/>
<circle cx="78.94" cy="546.92" r="1.45" fill="#fff" stroke="#7d8c8d" stroke-width="0.42"/>
<circle cx="81.05" cy="549.17" r="1.45" fill="#fff" stroke="#7d8c8d" stroke-width="0.42"/>
<circle cx="84.80" cy="550.40" r="1.45" fill="#fff" stroke="#7d8c8d" stroke-width="0.42"/>
<circle cx="84.80" cy="557.00" r="1.45" fill="#fff" stroke="#7d8c8d" stroke-width="0.42"/>
<circle cx="88.65" cy="550.40" r="1.45" fill="#fff" stroke="#7d8c8d" stroke-width="0.42"/>
<circle cx="88.65" cy="557.00" r="1.45" fill="#fff" stroke="#7d8c8d" stroke-width="0.42"/>
<circle cx="92.50" cy="550.40" r="1.45" fill="#fff" stroke="#7d8c8d" stroke-width="0.42"/>
<circle cx="92.50" cy="557.00" r="1.45" fill="#fff" stroke="#7d8c8d" stroke-width="0.42"/>
<circle cx="96.35" cy="550.40" r="1.45" fill="#fff" stroke="#7d8c8d" stroke-width="0.42"/>
<circle cx="96.35" cy="557.00" r="1.45" fill="#fff" stroke="#7d8c8d" stroke-width="0.42"/>
<circle cx="100.20" cy="550.40" r="1.45" fill="#fff" stroke="#7d8c8d" stroke-width="0.42"/>
<circle cx="100.20" cy="557.00" r="1.45" fill="#fff" stroke="#7d8c8d" stroke-width="0.42"/>
<circle cx="104.05" cy="550.40" r="1.45" fill="#fff" stroke="#7d8c8d" stroke-width="0.42"/>
<circle cx="104.05" cy="557.00" r="1.45" fill="#fff" stroke="#7d8c8d" stroke-width="0.42"/>
<circle cx="107.90" cy="550.40" r="1.45" fill="#fff" stroke="#7d8c8d" stroke-width="0.42"/>
<circle cx="107.90" cy="557.00" r="1.45" fill="#fff" stroke="#7d8c8d" stroke-width="0.42"/>
<circle cx="111.75" cy="550.40" r="1.45" fill="#fff" stroke="#7d8c8d" stroke-width="0.42"/>
<circle cx="111.75" cy="557.00" r="1.45" fill="#fff" stroke="#7d8c8d" stroke-width="0.42"/>
<circle cx="115.60" cy="550.40" r="1.45" fill="#fff" stroke="#7d8c8d" stroke-width="0.42"/>
<circle cx="115.60" cy="557.00" r="1.45" fill="#fff" stroke="#7d8c8d" stroke-width="0.42"/>
<circle cx="119.45" cy="550.40" r="1.45" fill="#fff" stroke="#7d8c8d" stroke-width="0.42"/>
<circle cx="119.45" cy="557.00" r="1.45" fill="#fff" stroke="#7d8c8d" stroke-width="0.42"/>
<circle cx="121.20" cy="547.60" r="1.45" fill="#fff" stroke="#7d8c8d" stroke-width="0.42"/>
<circle cx="134.40" cy="547.60" r="1.45" fill="#fff" stroke="#7d8c8d" stroke-width="0.42"/>
<circle cx="121.20" cy="559.40" r="1.45" fill="#fff" stroke="#7d8c8d" stroke-width="0.42"/>
<circle cx="134.40" cy="559.40" r="1.45" fill="#fff" stroke="#7d8c8d" stroke-width="0.42"/>
<circle cx="136.60" cy="550.40" r="1.45" fill="#fff" stroke="#7d8c8d" stroke-width="0.42"/>
<circle cx="136.60" cy="557.00" r="1.45" fill="#fff" stroke="#7d8c8d" stroke-width="0.42"/>
<circle cx="140.45" cy="550.40" r="1.45" fill="#fff" stroke="#7d8c8d" stroke-width="0.42"/>
<circle cx="140.45" cy="557.00" r="1.45" fill="#fff" stroke="#7d8c8d" stroke-width="0.42"/>
<circle cx="144.30" cy="550.40" r="1.45" fill="#fff" stroke="#7d8c8d" stroke-width="0.42"/>
<circle cx="144.30" cy="557.00" r="1.45" fill="#fff" stroke="#7d8c8d" stroke-width="0.42"/>
<circle cx="148.15" cy="550.40" r="1.45" fill="#fff" stroke="#7d8c8d" stroke-width="0.42"/>
<circle cx="148.15" cy="557.00" r="1.45" fill="#fff" stroke="#7d8c8d" stroke-width="0.42"/>
<circle cx="152.00" cy="550.40" r="1.45" fill="#fff" stroke="#7d8c8d" stroke-width="0.42"/>
<circle cx="152.00" cy="557.00" r="1.45" fill="#fff" stroke="#7d8c8d" stroke-width="0.42"/>
<circle cx="155.85" cy="550.40" r="1.45" fill="#fff" stroke="#7d8c8d" stroke-width="0.42"/>
<circle cx="155.85" cy="557.00" r="1.45" fill="#fff" stroke="#7d8c8d" stroke-width="0.42"/>
<circle cx="159.70" cy="550.40" r="1.45" fill="#fff" stroke="#7d8c8d" stroke-width="0.42"/>
<circle cx="159.70" cy="557.00" r="1.45" fill="#fff" stroke="#7d8c8d" stroke-width="0.42"/>
<circle cx="163.55" cy="550.40" r="1.45" fill="#fff" stroke="#7d8c8d" stroke-width="0.42"/>
<circle cx="163.55" cy="557.00" r="1.45" fill="#fff" stroke="#7d8c8d" stroke-width="0.42"/>
<circle cx="167.40" cy="550.40" r="1.45" fill="#fff" stroke="#7d8c8d" stroke-width="0.42"/>
<circle cx="167.40" cy="557.00" r="1.45" fill="#fff" stroke="#7d8c8d" stroke-width="0.42"/>
<circle cx="171.25" cy="550.40" r="1.45" fill="#fff" stroke="#7d8c8d" stroke-width="0.42"/>
<circle cx="171.25" cy="557.00" r="1.45" fill="#fff" stroke="#7d8c8d" stroke-width="0.42"/>
<circle cx="176.25" cy="549.92" r="1.45" fill="#fff" stroke="#7d8c8d" stroke-width="0.42"/>
<circle cx="178.02" cy="547.50" r="1.45" fill="#fff" stroke="#7d8c8d" stroke-width="0.42"/>
<circle cx="180.53" cy="545.86" r="1.45" fill="#fff" stroke="#7d8c8d" stroke-width="0.42"/>
<circle cx="183.45" cy="545.21" r="1.45" fill="#fff" stroke="#7d8c8d" stroke-width="0.42"/>
<circle cx="186.41" cy="545.62" r="1.45" fill="#fff" stroke="#7d8c8d" stroke-width="0.42"/>
<circle cx="189.05" cy="547.04" r="1.45" fill="#fff" stroke="#7d8c8d" stroke-width="0.42"/>
<circle cx="191.02" cy="549.30" r="1.45" fill="#fff" stroke="#7d8c8d" stroke-width="0.42"/>
<circle cx="192.07" cy="552.10" r="1.45" fill="#fff" stroke="#7d8c8d" stroke-width="0.42"/>
<circle cx="192.07" cy="555.10" r="1.45" fill="#fff" stroke="#7d8c8d" stroke-width="0.42"/>
<circle cx="191.02" cy="557.90" r="1.45" fill="#fff" stroke="#7d8c8d" stroke-width="0.42"/>
<circle cx="189.05" cy="560.16" r="1.45" fill="#fff" stroke="#7d8c8d" stroke-width="0.42"/>
<circle cx="186.41" cy="561.58" r="1.45" fill="#fff" stroke="#7d8c8d" stroke-width="0.42"/>
<circle cx="183.45" cy="561.99" r="1.45" fill="#fff" stroke="#7d8c8d" stroke-width="0.42"/>
<circle cx="180.53" cy="561.34" r="1.45" fill="#fff" stroke="#7d8c8d" stroke-width="0.42"/>
<circle cx="178.02" cy="559.70" r="1.45" fill="#fff" stroke="#7d8c8d" stroke-width="0.42"/>
<circle cx="176.25" cy="557.28" r="1.45" fill="#fff" stroke="#7d8c8d" stroke-width="0.42"/>
<circle cx="123.50" cy="562.20" r="1.45" fill="#fff" stroke="#7d8c8d" stroke-width="0.42"/>
<circle cx="131.60" cy="562.20" r="1.45" fill="#fff" stroke="#7d8c8d" stroke-width="0.42"/>
<circle cx="123.50" cy="565.60" r="1.45" fill="#fff" stroke="#7d8c8d" stroke-width="0.42"/>
<circle cx="131.60" cy="565.60" r="1.45" fill="#fff" stroke="#7d8c8d" stroke-width="0.42"/>
<circle cx="123.50" cy="569.00" r="1.45" fill="#fff" stroke="#7d8c8d" stroke-width="0.42"/>
<circle cx="131.60" cy="569.00" r="1.45" fill="#fff" stroke="#7d8c8d" stroke-width="0.42"/>
<circle cx="123.80" cy="544.40" r="1.45" fill="#fff" stroke="#7d8c8d" stroke-width="0.42"/>
<circle cx="131.60" cy="544.40" r="1.45" fill="#fff" stroke="#7d8c8d" stroke-width="0.42"/>
<circle cx="123.80" cy="540.60" r="1.45" fill="#fff" stroke="#7d8c8d" stroke-width="0.42"/>
<circle cx="131.60" cy="540.60" r="1.45" fill="#fff" stroke="#7d8c8d" stroke-width="0.42"/>
<circle cx="123.80" cy="536.80" r="1.45" fill="#fff" stroke="#7d8c8d" stroke-width="0.42"/>
<circle cx="131.60" cy="536.80" r="1.45" fill="#fff" stroke="#7d8c8d" stroke-width="0.42"/>
<circle cx="123.80" cy="533.00" r="1.45" fill="#fff" stroke="#7d8c8d" stroke-width="0.42"/>
<circle cx="131.60" cy="533.00" r="1.45" fill="#fff" stroke="#7d8c8d" stroke-width="0.42"/>
<circle cx="121.50" cy="519.20" r="1.45" fill="#fff" stroke="#7d8c8d" stroke-width="0.42"/>
<circle cx="119.50" cy="522.20" r="1.45" fill="#fff" stroke="#7d8c8d" stroke-width="0.42"/>
<circle cx="118.80" cy="525.20" r="1.45" fill="#fff" stroke="#7d8c8d" stroke-width="0.42"/>
<circle cx="119.50" cy="528.20" r="1.45" fill="#fff" stroke="#7d8c8d" stroke-width="0.42"/>
<circle cx="121.80" cy="530.60" r="1.45" fill="#fff" stroke="#7d8c8d" stroke-width="0.42"/>
<circle cx="133.60" cy="519.20" r="1.45" fill="#fff" stroke="#7d8c8d" stroke-width="0.42"/>
<circle cx="135.60" cy="522.20" r="1.45" fill="#fff" stroke="#7d8c8d" stroke-width="0.42"/>
<circle cx="136.40" cy="525.20" r="1.45" fill="#fff" stroke="#7d8c8d" stroke-width="0.42"/>
<circle cx="135.40" cy="528.20" r="1.45" fill="#fff" stroke="#7d8c8d" stroke-width="0.42"/>
<circle cx="132.80" cy="530.60" r="1.45" fill="#fff" stroke="#7d8c8d" stroke-width="0.42"/>
<circle cx="123.30" cy="516.80" r="1.45" fill="#fff" stroke="#7d8c8d" stroke-width="0.42"/>
<circle cx="132.20" cy="516.80" r="1.45" fill="#fff" stroke="#7d8c8d" stroke-width="0.42"/>
<circle cx="123.30" cy="513.35" r="1.45" fill="#fff" stroke="#7d8c8d" stroke-width="0.42"/>
<circle cx="132.20" cy="513.35" r="1.45" fill="#fff" stroke="#7d8c8d" stroke-width="0.42"/>
<circle cx="123.30" cy="509.90" r="1.45" fill="#fff" stroke="#7d8c8d" stroke-width="0.42"/>
<circle cx="132.20" cy="509.90" r="1.45" fill="#fff" stroke="#7d8c8d" stroke-width="0.42"/>
<circle cx="123.30" cy="506.45" r="1.45" fill="#fff" stroke="#7d8c8d" stroke-width="0.42"/>
<circle cx="132.20" cy="506.45" r="1.45" fill="#fff" stroke="#7d8c8d" stroke-width="0.42"/>
<circle cx="123.30" cy="503.00" r="1.45" fill="#fff" stroke="#7d8c8d" stroke-width="0.42"/>
<circle cx="132.20" cy="503.00" r="1.45" fill="#fff" stroke="#7d8c8d" stroke-width="0.42"/>
<circle cx="123.30" cy="499.55" r="1.45" fill="#fff" stroke="#7d8c8d" stroke-width="0.42"/>
<circle cx="132.20" cy="499.55" r="1.45" fill="#fff" stroke="#7d8c8d" stroke-width="0.42"/>
<circle cx="123.30" cy="496.10" r="1.45" fill="#fff" stroke="#7d8c8d" stroke-width="0.42"/>
<circle cx="132.20" cy="496.10" r="1.45" fill="#fff" stroke="#7d8c8d" stroke-width="0.42"/>
<circle cx="123.30" cy="492.65" r="1.45" fill="#fff" stroke="#7d8c8d" stroke-width="0.42"/>
<circle cx="132.20" cy="492.65" r="1.45" fill="#fff" stroke="#7d8c8d" stroke-width="0.42"/>
<circle cx="123.30" cy="489.20" r="1.45" fill="#fff" stroke="#7d8c8d" stroke-width="0.42"/>
<circle cx="132.20" cy="489.20" r="1.45" fill="#fff" stroke="#7d8c8d" stroke-width="0.42"/>
<circle cx="122.61" cy="489.06" r="1.45" fill="#fff" stroke="#7d8c8d" stroke-width="0.42"/>
<circle cx="119.80" cy="486.68" r="1.45" fill="#fff" stroke="#7d8c8d" stroke-width="0.42"/>
<circle cx="118.23" cy="483.50" r="1.45" fill="#fff" stroke="#7d8c8d" stroke-width="0.42"/>
<circle cx="118.16" cy="480.03" r="1.45" fill="#fff" stroke="#7d8c8d" stroke-width="0.42"/>
<circle cx="119.59" cy="476.80" r="1.45" fill="#fff" stroke="#7d8c8d" stroke-width="0.42"/>
<circle cx="122.30" cy="474.32" r="1.45" fill="#fff" stroke="#7d8c8d" stroke-width="0.42"/>
<circle cx="125.87" cy="472.97" r="1.45" fill="#fff" stroke="#7d8c8d" stroke-width="0.42"/>
<circle cx="129.73" cy="472.97" r="1.45" fill="#fff" stroke="#7d8c8d" stroke-width="0.42"/>
<circle cx="133.30" cy="474.32" r="1.45" fill="#fff" stroke="#7d8c8d" stroke-width="0.42"/>
<circle cx="136.01" cy="476.80" r="1.45" fill="#fff" stroke="#7d8c8d" stroke-width="0.42"/>
<circle cx="137.44" cy="480.03" r="1.45" fill="#fff" stroke="#7d8c8d" stroke-width="0.42"/>
<circle cx="137.37" cy="483.50" r="1.45" fill="#fff" stroke="#7d8c8d" stroke-width="0.42"/>
<circle cx="135.80" cy="486.68" r="1.45" fill="#fff" stroke="#7d8c8d" stroke-width="0.42"/>
<circle cx="132.99" cy="489.06" r="1.45" fill="#fff" stroke="#7d8c8d" stroke-width="0.42"/>
<circle cx="172.30" cy="572.60" r="1.45" fill="#fff" stroke="#7d8c8d" stroke-width="0.42"/>
<circle cx="175.80" cy="572.60" r="1.45" fill="#fff" stroke="#7d8c8d" stroke-width="0.42"/>
<circle cx="144.00" cy="572.60" r="1.45" fill="#fff" stroke="#7d8c8d" stroke-width="0.42"/>
<circle cx="147.35" cy="572.60" r="1.45" fill="#fff" stroke="#7d8c8d" stroke-width="0.42"/>
<circle cx="150.70" cy="572.60" r="1.45" fill="#fff" stroke="#7d8c8d" stroke-width="0.42"/>
<circle cx="154.05" cy="572.60" r="1.45" fill="#fff" stroke="#7d8c8d" stroke-width="0.42"/>
<circle cx="157.40" cy="572.60" r="1.45" fill="#fff" stroke="#7d8c8d" stroke-width="0.42"/>
<circle cx="160.75" cy="572.60" r="1.45" fill="#fff" stroke="#7d8c8d" stroke-width="0.42"/>
<circle cx="164.10" cy="572.60" r="1.45" fill="#fff" stroke="#7d8c8d" stroke-width="0.42"/>
<circle cx="167.45" cy="572.60" r="1.45" fill="#fff" stroke="#7d8c8d" stroke-width="0.42"/>
<circle cx="167.80" cy="572.50" r="1.50" fill="#e01010"/>
<text x="39.00" y="574.90" font-size="9.5" fill="#111" text-anchor="middle">3′</text>
<text x="183.50" y="574.60" font-size="9.5" fill="#111" text-anchor="middle">5′</text>
<line x1="143.20" y1="575.80" x2="143.20" y2="598.00" stroke="#d2e8f2" stroke-width="0.6"/>
<line x1="147.20" y1="575.80" x2="147.20" y2="598.00" stroke="#d2e8f2" stroke-width="0.6"/>
<line x1="151.20" y1="575.80" x2="151.20" y2="598.00" stroke="#d2e8f2" stroke-width="0.6"/>
<line x1="155.20" y1="575.80" x2="155.20" y2="598.00" stroke="#d2e8f2" stroke-width="0.6"/>
<line x1="159.20" y1="575.80" x2="159.20" y2="598.00" stroke="#d2e8f2" stroke-width="0.6"/>
<line x1="163.20" y1="575.80" x2="163.20" y2="598.00" stroke="#d2e8f2" stroke-width="0.6"/>
<line x1="167.20" y1="575.80" x2="167.20" y2="598.00" stroke="#d2e8f2" stroke-width="0.6"/>
<polygon points="169.0,574.8 178.4,579.4 173.6,580.2 180.8,584.4 176.2,585.2 183.0,590.4 170.8,585.6 175.0,584.2 168.4,580.8 172.6,580.0 167.2,576.6" fill="#ee1010"/>
<text x="185.90" y="590.79" font-size="9.6" fill="#f01818" textLength="19.20" lengthAdjust="spacingAndGlyphs">r.3′A</text>
<text x="213.90" y="590.79" font-size="9.6" fill="#f01818" textLength="6.80" lengthAdjust="spacingAndGlyphs">C</text>
<line x1="205.80" y1="586.80" x2="210.50" y2="586.80" stroke="#f01818" stroke-width="1.5"/>
<polygon points="213.3,586.8 209.6,584.2 209.6,589.4" fill="#f01818"/>
<rect x="27.00" y="590.40" width="120.00" height="27.20" fill="url(#exon)"/>
<line x1="27.00" y1="590.60" x2="147.00" y2="590.60" stroke="#c0cccc" stroke-width="0.5"/>
<line x1="27.00" y1="617.30" x2="147.00" y2="617.30" stroke="#c0cccc" stroke-width="0.5"/>
<text x="96.90" y="607.89" font-size="8.9" fill="#1a1a1a" font-weight="bold" textLength="21.60" lengthAdjust="spacingAndGlyphs">Exon</text>
<rect x="171.70" y="602.90" width="90.00" height="1.80" fill="url(#intron)"/>
<text x="223.70" y="615.85" font-size="8.8" fill="#111" font-weight="bold" textLength="26.30" lengthAdjust="spacingAndGlyphs">Intron</text>
<text x="89.75" y="628.71" font-size="8.7" fill="#222" textLength="51.45" lengthAdjust="spacingAndGlyphs">5′ splice site</text>
<line x1="141.80" y1="625.20" x2="146.80" y2="620.80" stroke="#111" stroke-width="0.8"/>
<polygon points="148.6,619.2 144.4,620.2 147.4,623.0" fill="#111"/>
<line x1="166.50" y1="625.00" x2="188.00" y2="625.00" stroke="#333" stroke-width="1"/>
<polygon points="191.5,625 186.5,622.8 186.5,627.2" fill="#333"/>
<text transform="translate(137.40,607.20) scale(0.554,2.250)" font-size="10.0" font-weight="bold" fill="#1e9a34">A</text>
<text transform="translate(137.80,610.20) scale(0.443,0.384)" font-size="10.0" font-weight="bold" fill="#e41c1c">U</text>
<text transform="translate(137.60,613.60) scale(0.499,0.439)" font-size="10.0" font-weight="bold" fill="#2442d0">C</text>
<text transform="translate(137.80,616.40) scale(0.437,0.357)" font-size="10.0" font-weight="bold" fill="#f28012">G</text>
<text transform="translate(141.50,609.60) scale(0.630,2.579)" font-size="10.0" font-weight="bold" fill="#f28012">G</text>
<text transform="translate(142.00,613.00) scale(0.554,0.439)" font-size="10.0" font-weight="bold" fill="#1e9a34">A</text>
<text transform="translate(142.00,616.20) scale(0.554,0.412)" font-size="10.0" font-weight="bold" fill="#e41c1c">U</text>
<text transform="translate(146.60,616.20) scale(0.591,3.484)" font-size="10.0" font-weight="bold" fill="#f28012">G</text>
<text transform="translate(151.10,616.60) scale(0.637,3.539)" font-size="10.0" font-weight="bold" fill="#e41c1c">U</text>
<text transform="translate(155.60,609.60) scale(0.568,1.481)" font-size="10.0" font-weight="bold" fill="#1e9a34">A</text>
<text transform="translate(155.80,612.40) scale(0.488,0.357)" font-size="10.0" font-weight="bold" fill="#f28012">G</text>
<text transform="translate(155.80,614.60) scale(0.526,0.274)" font-size="10.0" font-weight="bold" fill="#2442d0">C</text>
<text transform="translate(155.80,616.40) scale(0.526,0.247)" font-size="10.0" font-weight="bold" fill="#e41c1c">U</text>
<text transform="translate(159.70,609.80) scale(0.554,1.207)" font-size="10.0" font-weight="bold" fill="#1e9a34">A</text>
<text transform="translate(159.90,612.40) scale(0.463,0.329)" font-size="10.0" font-weight="bold" fill="#f28012">G</text>
<text transform="translate(159.90,614.60) scale(0.499,0.274)" font-size="10.0" font-weight="bold" fill="#2442d0">C</text>
<text transform="translate(159.90,616.40) scale(0.499,0.247)" font-size="10.0" font-weight="bold" fill="#e41c1c">U</text>
<text transform="translate(163.70,610.40) scale(0.450,1.193)" font-size="10.0" font-weight="bold" fill="#f28012">G</text>
<text transform="translate(163.80,612.80) scale(0.443,0.302)" font-size="10.0" font-weight="bold" fill="#1e9a34">A</text>
<text transform="translate(163.80,616.20) scale(0.443,0.439)" font-size="10.0" font-weight="bold" fill="#2442d0">C</text>
<text transform="translate(167.30,610.80) scale(0.429,0.466)" font-size="10.0" font-weight="bold" fill="#e41c1c">U</text>
<text transform="translate(167.30,613.20) scale(0.429,0.302)" font-size="10.0" font-weight="bold" fill="#1e9a34">A</text>
<text transform="translate(167.30,616.20) scale(0.398,0.384)" font-size="10.0" font-weight="bold" fill="#f28012">G</text>
<text x="260.20" y="485.20" font-size="11.3" fill="#000" font-weight="bold" textLength="6.00" lengthAdjust="spacingAndGlyphs">F</text>
<text x="305.90" y="512.36" font-size="9.1" fill="#111" font-style="italic" textLength="44.70" lengthAdjust="spacingAndGlyphs">HNRNPH1</text>
<rect x="341" y="521.4" width="108" height="1.3" fill="url(#geneL)"/>
<line x1="384.40" y1="510.00" x2="384.40" y2="521.60" stroke="#c89149" stroke-width="1.0"/>
<line x1="386.90" y1="510.00" x2="386.90" y2="521.60" stroke="#c89149" stroke-width="1.0"/>
<line x1="390.00" y1="498.00" x2="390.00" y2="521.60" stroke="#c89149" stroke-width="1.0"/>
<line x1="396.90" y1="504.00" x2="396.90" y2="521.60" stroke="#c89149" stroke-width="1.0"/>
<line x1="399.00" y1="504.00" x2="399.00" y2="521.60" stroke="#c89149" stroke-width="1.0"/>
<line x1="405.80" y1="510.00" x2="405.80" y2="521.60" stroke="#c89149" stroke-width="1.0"/>
<line x1="408.30" y1="510.00" x2="408.30" y2="521.60" stroke="#c89149" stroke-width="1.0"/>
<circle cx="390.00" cy="494.60" r="4.80" fill="#c89149" stroke="#fff" stroke-width="0.5"/>
<circle cx="387.10" cy="508.70" r="4.80" fill="#c89149" stroke="#fff" stroke-width="0.5"/>
<circle cx="384.40" cy="508.70" r="4.80" fill="#c89149" stroke="#fff" stroke-width="0.5"/>
<circle cx="399.30" cy="501.90" r="4.80" fill="#c89149" stroke="#fff" stroke-width="0.5"/>
<circle cx="396.90" cy="501.90" r="4.80" fill="#c89149" stroke="#fff" stroke-width="0.5"/>
<circle cx="408.30" cy="508.80" r="4.80" fill="#c89149" stroke="#fff" stroke-width="0.5"/>
<circle cx="405.60" cy="508.80" r="4.80" fill="#c89149" stroke="#fff" stroke-width="0.5"/>
<rect x="357.00" y="515.20" width="9.30" height="12.70" fill="url(#ebox)" stroke="#8d9c9c" stroke-width="0.7"/>
<text x="361.65" y="524.93" font-size="8.6" fill="#111" text-anchor="middle">3</text>
<rect x="394.60" y="515.20" width="9.40" height="12.70" fill="url(#ebox)" stroke="#8d9c9c" stroke-width="0.7"/>
<text x="399.30" y="524.93" font-size="8.6" fill="#111" text-anchor="middle">4</text>
<rect x="419.70" y="515.20" width="9.40" height="12.70" fill="url(#ebox)" stroke="#8d9c9c" stroke-width="0.7"/>
<text x="424.40" y="524.93" font-size="8.6" fill="#111" text-anchor="middle">5</text>
<text x="298.40" y="543.76" font-size="9.1" fill="#1a1a1a" textLength="35.80" lengthAdjust="spacingAndGlyphs">WT cells</text>
<line x1="385.20" y1="535.90" x2="378.60" y2="552.00" stroke="#111" stroke-width="0.9"/>
<polygon points="378.37,552.56 378.34,547.36 382.04,548.87" fill="#111"/>
<line x1="407.40" y1="534.40" x2="414.90" y2="550.60" stroke="#111" stroke-width="0.9"/>
<polygon points="415.15,551.14 411.32,547.63 414.95,545.95" fill="#111"/>
<text x="439.80" y="538.46" font-size="9.1" fill="#f02020" textLength="44.80" lengthAdjust="spacingAndGlyphs">HNRNPH1</text>
<text x="432.80" y="550.36" font-size="9.1" fill="#f02020" textLength="52.90" lengthAdjust="spacingAndGlyphs">mutant MCL</text>
<rect x="301.60" y="566.10" width="13.40" height="13.10" fill="url(#fadeL)"/>
<line x1="301.60" y1="579.20" x2="315.00" y2="579.20" stroke="#b8c4c4" stroke-width="0.6"/>
<line x1="301.60" y1="566.10" x2="315.00" y2="566.10" stroke="#c8d2d2" stroke-width="0.5"/>
<line x1="315.00" y1="566.10" x2="315.00" y2="579.20" stroke="#9aa8a8" stroke-width="0.6"/>
<rect x="366.20" y="566.10" width="9.50" height="13.10" fill="url(#fadeR)"/>
<line x1="366.20" y1="579.20" x2="375.70" y2="579.20" stroke="#b8c4c4" stroke-width="0.6"/>
<line x1="366.20" y1="566.10" x2="375.70" y2="566.10" stroke="#c8d2d2" stroke-width="0.5"/>
<line x1="366.20" y1="566.10" x2="366.20" y2="579.20" stroke="#9aa8a8" stroke-width="0.6"/>
<polyline points="315,566.1 317.7,561.8 320.3,566.1" fill="none" stroke="#111" stroke-width="0.8"/>
<polyline points="328.7,566.1 340,561.8 351.3,566.1" fill="none" stroke="#111" stroke-width="0.8"/>
<polyline points="359.8,566.1 363,561.8 366.2,566.1" fill="none" stroke="#111" stroke-width="0.8"/>
<rect x="320.30" y="566.10" width="8.40" height="13.10" fill="url(#ebox)" stroke="#8d9c9c" stroke-width="0.7"/>
<text x="324.50" y="576.03" font-size="8.6" fill="#111" text-anchor="middle">3</text>
<rect x="351.30" y="566.10" width="8.50" height="13.10" fill="url(#ebox)" stroke="#8d9c9c" stroke-width="0.7"/>
<text x="355.55" y="576.03" font-size="8.6" fill="#111" text-anchor="middle">5</text>
<line x1="356.00" y1="559.00" x2="356.00" y2="566.10" stroke="#111" stroke-width="1.1"/>
<polygon points="358.26,548.15 361.45,551.34 361.45,555.86 358.26,559.05 353.74,559.05 350.55,555.86 350.55,551.34 353.74,548.15" fill="#e81010"/>
<text x="296.80" y="594.76" font-size="9.1" fill="#1a1a1a" textLength="57.10" lengthAdjust="spacingAndGlyphs">NMD isoform</text>
<rect x="406.30" y="565.00" width="17.00" height="13.20" fill="url(#fadeL)"/>
<line x1="406.30" y1="578.20" x2="423.30" y2="578.20" stroke="#b8c4c4" stroke-width="0.6"/>
<line x1="406.30" y1="565.00" x2="423.30" y2="565.00" stroke="#c8d2d2" stroke-width="0.5"/>
<line x1="423.30" y1="565.00" x2="423.30" y2="578.20" stroke="#9aa8a8" stroke-width="0.6"/>
<rect x="474.00" y="565.00" width="9.60" height="13.20" fill="url(#fadeR)"/>
<line x1="474.00" y1="578.20" x2="483.60" y2="578.20" stroke="#b8c4c4" stroke-width="0.6"/>
<line x1="474.00" y1="565.00" x2="483.60" y2="565.00" stroke="#c8d2d2" stroke-width="0.5"/>
<line x1="474.00" y1="565.00" x2="474.00" y2="578.20" stroke="#9aa8a8" stroke-width="0.6"/>
<polyline points="423.3,565 425.70,561.0 428.1,565" fill="none" stroke="#111" stroke-width="0.8"/>
<polyline points="437.7,565 441.05,561.0 444.4,565" fill="none" stroke="#111" stroke-width="0.8"/>
<polyline points="452.9,565 456.40,561.0 459.9,565" fill="none" stroke="#111" stroke-width="0.8"/>
<polyline points="468.3,565 471.15,561.0 474,565" fill="none" stroke="#111" stroke-width="0.8"/>
<rect x="428.10" y="565.00" width="9.60" height="13.20" fill="url(#ebox)" stroke="#8d9c9c" stroke-width="0.7"/>
<text x="432.90" y="574.98" font-size="8.6" fill="#111" text-anchor="middle">3</text>
<rect x="444.40" y="565.00" width="8.50" height="13.20" fill="url(#ebox)" stroke="#8d9c9c" stroke-width="0.7"/>
<text x="448.65" y="574.98" font-size="8.6" fill="#111" text-anchor="middle">4</text>
<rect x="459.90" y="565.00" width="8.40" height="13.20" fill="url(#ebox)" stroke="#8d9c9c" stroke-width="0.7"/>
<text x="464.10" y="574.98" font-size="8.6" fill="#111" text-anchor="middle">5</text>
<g transform="translate(335.25,617.25)"><circle cx="-0.25" cy="1.55" r="6.3" fill="#a4661e"/><circle cx="4.35" cy="-4.95" r="4.1" fill="#a4661e"/><circle cx="-4.45" cy="-1.55" r="4.0" fill="#a4661e"/><path d="M2.6,-5.8 A2.2,2.2 0 0 1 6.2,-4.2" fill="none" stroke="#f3e2c8" stroke-width="0.8"/><path d="M-6.3,-0.6 A2.3,2.3 0 0 1 -4.2,-3.4" fill="none" stroke="#f3e2c8" stroke-width="0.8"/><path d="M-1.2,6.0 A2,2 0 0 0 1.2,4.6" fill="none" stroke="#e0bf90" stroke-width="0.6"/></g>
<g transform="translate(400.15,608.15)"><circle cx="-0.25" cy="1.55" r="6.3" fill="#a4661e"/><circle cx="4.35" cy="-4.95" r="4.1" fill="#a4661e"/><circle cx="-4.45" cy="-1.55" r="4.0" fill="#a4661e"/><path d="M2.6,-5.8 A2.2,2.2 0 0 1 6.2,-4.2" fill="none" stroke="#f3e2c8" stroke-width="0.8"/><path d="M-6.3,-0.6 A2.3,2.3 0 0 1 -4.2,-3.4" fill="none" stroke="#f3e2c8" stroke-width="0.8"/><path d="M-1.2,6.0 A2,2 0 0 0 1.2,4.6" fill="none" stroke="#e0bf90" stroke-width="0.6"/></g>
<g transform="translate(418.00,608.50)"><circle cx="-0.25" cy="1.55" r="6.3" fill="#a4661e"/><circle cx="4.35" cy="-4.95" r="4.1" fill="#a4661e"/><circle cx="-4.45" cy="-1.55" r="4.0" fill="#a4661e"/><path d="M2.6,-5.8 A2.2,2.2 0 0 1 6.2,-4.2" fill="none" stroke="#f3e2c8" stroke-width="0.8"/><path d="M-6.3,-0.6 A2.3,2.3 0 0 1 -4.2,-3.4" fill="none" stroke="#f3e2c8" stroke-width="0.8"/><path d="M-1.2,6.0 A2,2 0 0 0 1.2,4.6" fill="none" stroke="#e0bf90" stroke-width="0.6"/></g>
<g transform="translate(439.00,610.00)"><circle cx="-0.25" cy="1.55" r="6.3" fill="#a4661e"/><circle cx="4.35" cy="-4.95" r="4.1" fill="#a4661e"/><circle cx="-4.45" cy="-1.55" r="4.0" fill="#a4661e"/><path d="M2.6,-5.8 A2.2,2.2 0 0 1 6.2,-4.2" fill="none" stroke="#f3e2c8" stroke-width="0.8"/><path d="M-6.3,-0.6 A2.3,2.3 0 0 1 -4.2,-3.4" fill="none" stroke="#f3e2c8" stroke-width="0.8"/><path d="M-1.2,6.0 A2,2 0 0 0 1.2,4.6" fill="none" stroke="#e0bf90" stroke-width="0.6"/></g>
<g transform="translate(406.85,625.65)"><circle cx="-0.25" cy="1.55" r="6.3" fill="#a4661e"/><circle cx="4.35" cy="-4.95" r="4.1" fill="#a4661e"/><circle cx="-4.45" cy="-1.55" r="4.0" fill="#a4661e"/><path d="M2.6,-5.8 A2.2,2.2 0 0 1 6.2,-4.2" fill="none" stroke="#f3e2c8" stroke-width="0.8"/><path d="M-6.3,-0.6 A2.3,2.3 0 0 1 -4.2,-3.4" fill="none" stroke="#f3e2c8" stroke-width="0.8"/><path d="M-1.2,6.0 A2,2 0 0 0 1.2,4.6" fill="none" stroke="#e0bf90" stroke-width="0.6"/></g>
<g transform="translate(425.10,626.25)"><circle cx="-0.25" cy="1.55" r="6.3" fill="#a4661e"/><circle cx="4.35" cy="-4.95" r="4.1" fill="#a4661e"/><circle cx="-4.45" cy="-1.55" r="4.0" fill="#a4661e"/><path d="M2.6,-5.8 A2.2,2.2 0 0 1 6.2,-4.2" fill="none" stroke="#f3e2c8" stroke-width="0.8"/><path d="M-6.3,-0.6 A2.3,2.3 0 0 1 -4.2,-3.4" fill="none" stroke="#f3e2c8" stroke-width="0.8"/><path d="M-1.2,6.0 A2,2 0 0 0 1.2,4.6" fill="none" stroke="#e0bf90" stroke-width="0.6"/></g>
<line x1="451.30" y1="606.00" x2="451.30" y2="616.90" stroke="#f01818" stroke-width="1.2"/>
<polygon points="451.3,601.5 454.4,607 448.2,607" fill="#f01818"/>
<text x="458.25" y="612.01" font-size="9.1" fill="#f02020" textLength="43.75" lengthAdjust="spacingAndGlyphs">HNRNPH1</text>
<text x="464.50" y="623.26" font-size="9.1" fill="#f02020" textLength="31.25" lengthAdjust="spacingAndGlyphs">protein</text><rect x="0.5" y="0.5" width="519" height="642" fill="none" stroke="#000" stroke-width="1"/><rect x="1.5" y="1.5" width="517" height="640" fill="none" stroke="#000" stroke-opacity="0.4" stroke-width="1"/></svg>
</body></html>
